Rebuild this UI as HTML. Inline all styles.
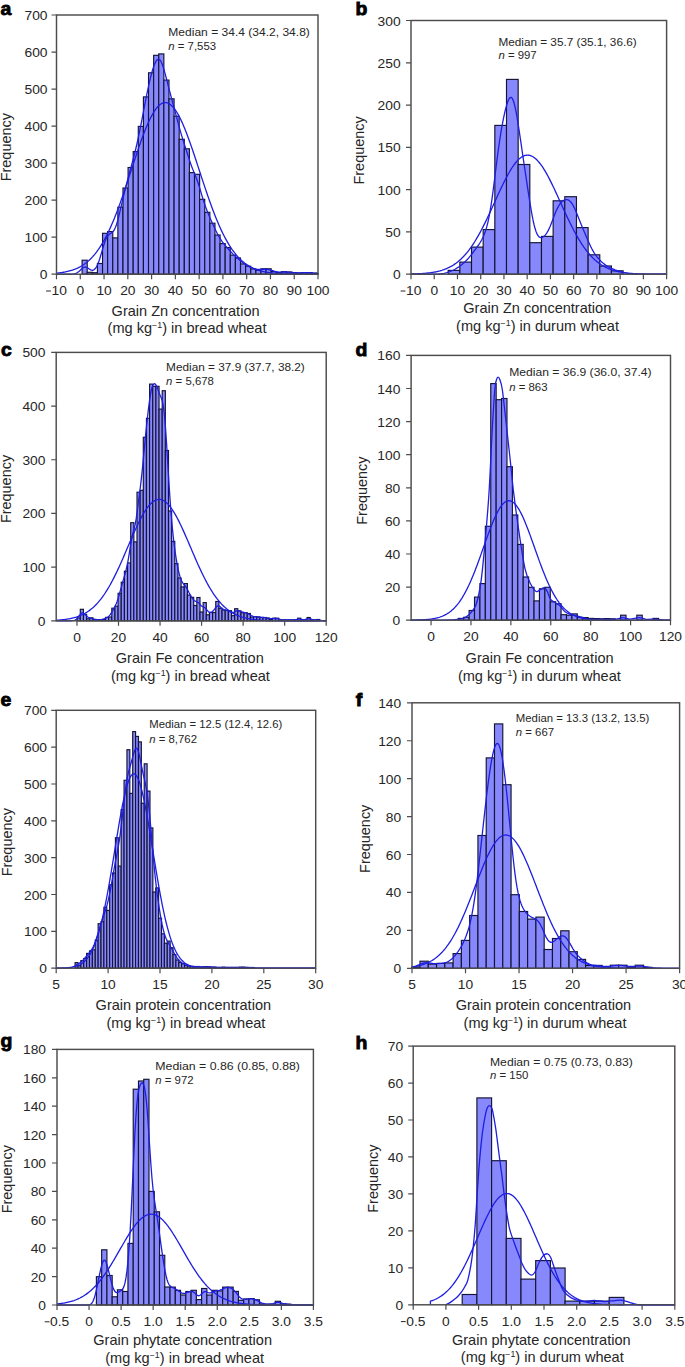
<!DOCTYPE html>
<html><head><meta charset="utf-8"><style>
html,body{margin:0;padding:0;background:#fff;}
body{width:685px;height:1367px;overflow:hidden;}
svg{display:block;}
</style></head><body><svg width="685" height="1367" viewBox="0 0 685 1367" font-family="'Liberation Sans', sans-serif"><g fill="#8888fd" stroke="#141434" stroke-width="1.15"><rect x="82.10" y="260.20" width="5.11" height="14.00"/><rect x="87.21" y="272.30" width="5.11" height="1.90"/><rect x="92.32" y="272.70" width="5.11" height="1.50"/><rect x="97.43" y="263.50" width="5.11" height="10.70"/><rect x="102.54" y="233.30" width="5.11" height="40.90"/><rect x="107.65" y="231.60" width="5.11" height="42.60"/><rect x="112.76" y="237.90" width="5.11" height="36.30"/><rect x="117.87" y="207.20" width="5.11" height="67.00"/><rect x="122.98" y="188.00" width="5.11" height="86.20"/><rect x="128.09" y="167.50" width="5.11" height="106.70"/><rect x="133.20" y="151.60" width="5.11" height="122.60"/><rect x="138.31" y="126.40" width="5.11" height="147.80"/><rect x="143.42" y="96.90" width="5.11" height="177.30"/><rect x="148.53" y="72.80" width="5.11" height="201.40"/><rect x="153.64" y="55.30" width="5.11" height="218.90"/><rect x="158.75" y="53.90" width="5.11" height="220.30"/><rect x="163.86" y="80.10" width="5.11" height="194.10"/><rect x="168.97" y="98.80" width="5.11" height="175.40"/><rect x="174.08" y="116.20" width="5.11" height="158.00"/><rect x="179.19" y="139.30" width="5.11" height="134.90"/><rect x="184.30" y="148.80" width="5.11" height="125.40"/><rect x="189.41" y="172.60" width="5.11" height="101.60"/><rect x="194.52" y="174.30" width="5.11" height="99.90"/><rect x="199.63" y="199.30" width="5.11" height="74.90"/><rect x="204.74" y="212.30" width="5.11" height="61.90"/><rect x="209.85" y="223.20" width="5.11" height="51.00"/><rect x="214.96" y="235.00" width="5.11" height="39.20"/><rect x="220.07" y="243.60" width="5.11" height="30.60"/><rect x="225.18" y="247.60" width="5.11" height="26.60"/><rect x="230.29" y="255.10" width="5.11" height="19.10"/><rect x="235.40" y="258.00" width="5.11" height="16.20"/><rect x="240.51" y="263.90" width="5.11" height="10.30"/><rect x="245.62" y="266.20" width="5.11" height="8.00"/><rect x="250.73" y="268.90" width="5.11" height="5.30"/><rect x="255.84" y="270.30" width="5.11" height="3.90"/><rect x="260.95" y="268.80" width="5.11" height="5.40"/><rect x="266.06" y="268.80" width="5.11" height="5.40"/><rect x="271.17" y="271.50" width="5.11" height="2.70"/><rect x="276.28" y="272.60" width="5.11" height="1.60"/><rect x="281.39" y="271.70" width="5.11" height="2.50"/><rect x="286.50" y="272.00" width="5.11" height="2.20"/><rect x="291.61" y="272.80" width="5.11" height="1.40"/><rect x="296.72" y="273.00" width="5.11" height="1.20"/><rect x="301.83" y="272.60" width="5.11" height="1.60"/><rect x="306.94" y="272.60" width="5.11" height="1.60"/><rect x="312.05" y="273.20" width="5.11" height="1.00"/><rect x="317.16" y="273.40" width="0.84" height="0.80"/></g><g fill="none" stroke="#1e1ee0" stroke-width="1.3" stroke-linejoin="round"><path d="M56.50,273.18 L57.50,273.08 L58.50,272.97 L59.50,272.85 L60.50,272.72 L61.50,272.58 L62.50,272.43 L63.50,272.26 L64.50,272.09 L65.50,271.90 L66.50,271.69 L67.50,271.47 L68.50,271.23 L69.50,270.97 L70.50,270.69 L71.50,270.39 L72.50,270.07 L73.50,269.72 L74.50,269.36 L75.50,268.96 L76.50,268.54 L77.50,268.09 L78.50,267.61 L79.50,267.10 L80.50,266.56 L81.50,265.98 L82.50,265.36 L83.50,264.71 L84.50,264.02 L85.50,263.29 L86.50,262.51 L87.50,261.69 L88.50,260.82 L89.50,259.91 L90.50,258.95 L91.50,257.94 L92.50,256.87 L93.50,255.75 L94.50,254.58 L95.50,253.34 L96.50,252.05 L97.50,250.71 L98.50,249.30 L99.50,247.82 L100.50,246.29 L101.50,244.69 L102.50,243.03 L103.50,241.30 L104.50,239.51 L105.50,237.65 L106.50,235.73 L107.50,233.74 L108.50,231.68 L109.50,229.55 L110.50,227.37 L111.50,225.11 L112.50,222.79 L113.50,220.41 L114.50,217.97 L115.50,215.47 L116.50,212.91 L117.50,210.29 L118.50,207.62 L119.50,204.90 L120.50,202.13 L121.50,199.31 L122.50,196.45 L123.50,193.56 L124.50,190.62 L125.50,187.65 L126.50,184.66 L127.50,181.64 L128.50,178.61 L129.50,175.56 L130.50,172.50 L131.50,169.44 L132.50,166.37 L133.50,163.32 L134.50,160.28 L135.50,157.25 L136.50,154.25 L137.50,151.28 L138.50,148.34 L139.50,145.45 L140.50,142.60 L141.50,139.80 L142.50,137.07 L143.50,134.40 L144.50,131.80 L145.50,129.28 L146.50,126.84 L147.50,124.49 L148.50,122.24 L149.50,120.09 L150.50,118.04 L151.50,116.10 L152.50,114.27 L153.50,112.56 L154.50,110.98 L155.50,109.52 L156.50,108.20 L157.50,107.01 L158.50,105.95 L159.50,105.04 L160.50,104.27 L161.50,103.64 L162.50,103.16 L163.50,102.83 L164.50,102.64 L165.50,102.60 L166.50,102.72 L167.50,102.98 L168.50,103.38 L169.50,103.94 L170.50,104.64 L171.50,105.48 L172.50,106.46 L173.50,107.58 L174.50,108.84 L175.50,110.23 L176.50,111.75 L177.50,113.40 L178.50,115.16 L179.50,117.05 L180.50,119.04 L181.50,121.15 L182.50,123.35 L183.50,125.65 L184.50,128.05 L185.50,130.52 L186.50,133.08 L187.50,135.72 L188.50,138.42 L189.50,141.19 L190.50,144.01 L191.50,146.88 L192.50,149.80 L193.50,152.75 L194.50,155.74 L195.50,158.75 L196.50,161.79 L197.50,164.84 L198.50,167.90 L199.50,170.96 L200.50,174.02 L201.50,177.08 L202.50,180.12 L203.50,183.15 L204.50,186.15 L205.50,189.13 L206.50,192.08 L207.50,195.00 L208.50,197.88 L209.50,200.72 L210.50,203.51 L211.50,206.26 L212.50,208.96 L213.50,211.60 L214.50,214.19 L215.50,216.72 L216.50,219.19 L217.50,221.61 L218.50,223.96 L219.50,226.24 L220.50,228.46 L221.50,230.62 L222.50,232.71 L223.50,234.74 L224.50,236.69 L225.50,238.59 L226.50,240.41 L227.50,242.17 L228.50,243.87 L229.50,245.50 L230.50,247.06 L231.50,248.56 L232.50,250.01 L233.50,251.38 L234.50,252.70 L235.50,253.96 L236.50,255.17 L237.50,256.31 L238.50,257.41 L239.50,258.45 L240.50,259.43 L241.50,260.37 L242.50,261.26 L243.50,262.10 L244.50,262.90 L245.50,263.66 L246.50,264.37 L247.50,265.04 L248.50,265.67 L249.50,266.27 L250.50,266.83 L251.50,267.36 L252.50,267.86 L253.50,268.32 L254.50,268.75 L255.50,269.16 L256.50,269.54 L257.50,269.90 L258.50,270.23 L259.50,270.54 L260.50,270.83 L261.50,271.10 L262.50,271.35 L263.50,271.58 L264.50,271.79 L265.50,271.99 L266.50,272.18 L267.50,272.35 L268.50,272.51 L269.50,272.65 L270.50,272.79 L271.50,272.91 L272.50,273.02 L273.50,273.13 L274.50,273.22 L275.50,273.31 L276.50,273.39 L277.50,273.47 L278.50,273.54 L279.50,273.60 L280.50,273.66 L281.50,273.71 L282.50,273.76 L283.50,273.80 L284.50,273.84 L285.50,273.87 L286.50,273.91 L287.50,273.94 L288.50,273.96 L289.50,273.99 L290.50,274.01 L291.50,274.03 L292.50,274.05 L293.50,274.06 L294.50,274.08 L295.50,274.09 L296.50,274.10 L297.50,274.11 L298.50,274.12 L299.50,274.13 L300.50,274.14 L301.50,274.14 L302.50,274.15 L303.50,274.16 L304.50,274.16 L305.50,274.17 L306.50,274.17 L307.50,274.17 L308.50,274.18 L309.50,274.18 L310.50,274.18 L311.50,274.18 L312.50,274.19 L313.50,274.19 L314.50,274.19 L315.50,274.19 L316.50,274.19 L317.50,274.19"/><path d="M56.50,274.20 L57.50,274.20 L58.50,274.20 L59.50,274.20 L60.50,274.20 L61.50,274.20 L62.50,274.20 L63.50,274.20 L64.50,274.20 L65.50,274.20 L66.50,274.20 L67.50,274.20 L68.50,274.20 L69.50,274.19 L70.50,274.17 L71.50,274.14 L72.50,274.09 L73.50,273.98 L74.50,273.81 L75.50,273.53 L76.50,273.11 L77.50,272.54 L78.50,271.80 L79.50,270.92 L80.50,269.94 L81.50,268.96 L82.50,268.09 L83.50,267.43 L84.50,267.06 L85.50,267.02 L86.50,267.30 L87.50,267.82 L88.50,268.49 L89.50,269.18 L90.50,269.77 L91.50,270.16 L92.50,270.26 L93.50,270.02 L94.50,269.38 L95.50,268.31 L96.50,266.78 L97.50,264.79 L98.50,262.34 L99.50,259.47 L100.50,256.26 L101.50,252.82 L102.50,249.32 L103.50,245.93 L104.50,242.82 L105.50,240.12 L106.50,237.92 L107.50,236.22 L108.50,235.00 L109.50,234.14 L110.50,233.49 L111.50,232.89 L112.50,232.13 L113.50,231.04 L114.50,229.46 L115.50,227.30 L116.50,224.54 L117.50,221.23 L118.50,217.47 L119.50,213.39 L120.50,209.13 L121.50,204.82 L122.50,200.54 L123.50,196.33 L124.50,192.21 L125.50,188.19 L126.50,184.24 L127.50,180.37 L128.50,176.55 L129.50,172.79 L130.50,169.07 L131.50,165.37 L132.50,161.66 L133.50,157.88 L134.50,154.00 L135.50,149.97 L136.50,145.76 L137.50,141.34 L138.50,136.72 L139.50,131.90 L140.50,126.91 L141.50,121.79 L142.50,116.58 L143.50,111.33 L144.50,106.11 L145.50,100.95 L146.50,95.90 L147.50,91.02 L148.50,86.33 L149.50,81.86 L150.50,77.66 L151.50,73.76 L152.50,70.20 L153.50,67.04 L154.50,64.33 L155.50,62.13 L156.50,60.50 L157.50,59.51 L158.50,59.20 L159.50,59.60 L160.50,60.73 L161.50,62.56 L162.50,65.02 L163.50,68.02 L164.50,71.44 L165.50,75.15 L166.50,79.02 L167.50,82.95 L168.50,86.87 L169.50,90.74 L170.50,94.54 L171.50,98.29 L172.50,102.00 L173.50,105.70 L174.50,109.42 L175.50,113.16 L176.50,116.93 L177.50,120.70 L178.50,124.44 L179.50,128.11 L180.50,131.67 L181.50,135.09 L182.50,138.38 L183.50,141.55 L184.50,144.66 L185.50,147.74 L186.50,150.84 L187.50,153.97 L188.50,157.11 L189.50,160.20 L190.50,163.18 L191.50,165.99 L192.50,168.63 L193.50,171.13 L194.50,173.54 L195.50,175.98 L196.50,178.54 L197.50,181.29 L198.50,184.27 L199.50,187.45 L200.50,190.76 L201.50,194.12 L202.50,197.45 L203.50,200.66 L204.50,203.72 L205.50,206.61 L206.50,209.33 L207.50,211.91 L208.50,214.36 L209.50,216.73 L210.50,219.03 L211.50,221.29 L212.50,223.51 L213.50,225.70 L214.50,227.85 L215.50,229.95 L216.50,231.98 L217.50,233.94 L218.50,235.80 L219.50,237.55 L220.50,239.18 L221.50,240.70 L222.50,242.10 L223.50,243.41 L224.50,244.64 L225.50,245.81 L226.50,246.96 L227.50,248.09 L228.50,249.22 L229.50,250.34 L230.50,251.46 L231.50,252.54 L232.50,253.59 L233.50,254.60 L234.50,255.55 L235.50,256.47 L236.50,257.36 L237.50,258.24 L238.50,259.12 L239.50,259.99 L240.50,260.86 L241.50,261.70 L242.50,262.51 L243.50,263.28 L244.50,263.99 L245.50,264.64 L246.50,265.25 L247.50,265.82 L248.50,266.35 L249.50,266.84 L250.50,267.32 L251.50,267.76 L252.50,268.16 L253.50,268.52 L254.50,268.84 L255.50,269.09 L256.50,269.28 L257.50,269.41 L258.50,269.47 L259.50,269.48 L260.50,269.44 L261.50,269.37 L262.50,269.29 L263.50,269.23 L264.50,269.19 L265.50,269.20 L266.50,269.25 L267.50,269.37 L268.50,269.55 L269.50,269.79 L270.50,270.06 L271.50,270.37 L272.50,270.68 L273.50,270.99 L274.50,271.28 L275.50,271.53 L276.50,271.73 L277.50,271.88 L278.50,271.99 L279.50,272.04 L280.50,272.06 L281.50,272.06 L282.50,272.04 L283.50,272.01 L284.50,272.00 L285.50,272.00 L286.50,272.02 L287.50,272.06 L288.50,272.12 L289.50,272.20 L290.50,272.29 L291.50,272.38 L292.50,272.48 L293.50,272.57 L294.50,272.65 L295.50,272.72 L296.50,272.77 L297.50,272.80 L298.50,272.82 L299.50,272.82 L300.50,272.81 L301.50,272.79 L302.50,272.76 L303.50,272.73 L304.50,272.71 L305.50,272.70 L306.50,272.70 L307.50,272.71 L308.50,272.73 L309.50,272.77 L310.50,272.83 L311.50,272.89 L312.50,272.96 L313.50,273.03 L314.50,273.11 L315.50,273.19 L316.50,273.27 L317.50,273.35"/></g><rect x="56.5" y="15.0" width="261.50" height="259.20" fill="none" stroke="#4c4c4c" stroke-width="1.45"/><path d="M51.50,274.20H56.5M51.50,237.17H56.5M51.50,200.14H56.5M51.50,163.11H56.5M51.50,126.09H56.5M51.50,89.06H56.5M51.50,52.03H56.5M51.50,15.00H56.5M56.50,274.2V279.20M80.27,274.2V279.20M104.05,274.2V279.20M127.82,274.2V279.20M151.59,274.2V279.20M175.36,274.2V279.20M199.14,274.2V279.20M222.91,274.2V279.20M246.68,274.2V279.20M270.45,274.2V279.20M294.23,274.2V279.20M318.00,274.2V279.20" stroke="#4c4c4c" stroke-width="1.2" fill="none"/><g font-size="11.9" fill="#262626"><text transform="translate(47.50,279.20) scale(1.16,1)" text-anchor="end">0</text><text transform="translate(47.50,242.17) scale(1.16,1)" text-anchor="end">100</text><text transform="translate(47.50,205.14) scale(1.16,1)" text-anchor="end">200</text><text transform="translate(47.50,168.11) scale(1.16,1)" text-anchor="end">300</text><text transform="translate(47.50,131.09) scale(1.16,1)" text-anchor="end">400</text><text transform="translate(47.50,94.06) scale(1.16,1)" text-anchor="end">500</text><text transform="translate(47.50,57.03) scale(1.16,1)" text-anchor="end">600</text><text transform="translate(47.50,20.00) scale(1.16,1)" text-anchor="end">700</text><path d="M46.12,291.00h4.8" stroke="#262626" stroke-width="1.0" fill="none"/><text transform="translate(51.52,294.90) scale(1.16,1)">10</text><text transform="translate(80.27,294.90) scale(1.16,1)" text-anchor="middle">0</text><text transform="translate(104.05,294.90) scale(1.16,1)" text-anchor="middle">10</text><text transform="translate(127.82,294.90) scale(1.16,1)" text-anchor="middle">20</text><text transform="translate(151.59,294.90) scale(1.16,1)" text-anchor="middle">30</text><text transform="translate(175.36,294.90) scale(1.16,1)" text-anchor="middle">40</text><text transform="translate(199.14,294.90) scale(1.16,1)" text-anchor="middle">50</text><text transform="translate(222.91,294.90) scale(1.16,1)" text-anchor="middle">60</text><text transform="translate(246.68,294.90) scale(1.16,1)" text-anchor="middle">70</text><text transform="translate(270.45,294.90) scale(1.16,1)" text-anchor="middle">80</text><text transform="translate(294.23,294.90) scale(1.16,1)" text-anchor="middle">90</text><text transform="translate(318.00,294.90) scale(1.16,1)" text-anchor="middle">100</text></g><g fill="#8888fd" stroke="#141434" stroke-width="1.15"><rect x="448.20" y="270.40" width="11.66" height="3.80"/><rect x="459.86" y="262.10" width="11.66" height="12.10"/><rect x="471.52" y="247.10" width="11.66" height="27.10"/><rect x="483.18" y="229.60" width="11.66" height="44.60"/><rect x="494.84" y="125.40" width="11.66" height="148.80"/><rect x="506.50" y="79.40" width="11.66" height="194.80"/><rect x="518.16" y="164.50" width="11.66" height="109.70"/><rect x="529.82" y="242.70" width="11.66" height="31.50"/><rect x="541.48" y="236.40" width="11.66" height="37.80"/><rect x="553.14" y="200.80" width="11.66" height="73.40"/><rect x="564.80" y="196.70" width="11.66" height="77.50"/><rect x="576.46" y="227.60" width="11.66" height="46.60"/><rect x="588.12" y="254.80" width="11.66" height="19.40"/><rect x="599.78" y="266.00" width="11.66" height="8.20"/><rect x="611.44" y="270.80" width="11.66" height="3.40"/></g><g fill="none" stroke="#1e1ee0" stroke-width="1.3" stroke-linejoin="round"><path d="M411.00,273.99 L412.00,273.96 L413.00,273.93 L414.00,273.90 L415.00,273.87 L416.00,273.84 L417.00,273.80 L418.00,273.75 L419.00,273.71 L420.00,273.65 L421.00,273.60 L422.00,273.53 L423.00,273.46 L424.00,273.39 L425.00,273.31 L426.00,273.22 L427.00,273.12 L428.00,273.02 L429.00,272.90 L430.00,272.78 L431.00,272.64 L432.00,272.50 L433.00,272.34 L434.00,272.17 L435.00,271.99 L436.00,271.79 L437.00,271.58 L438.00,271.35 L439.00,271.10 L440.00,270.84 L441.00,270.55 L442.00,270.25 L443.00,269.92 L444.00,269.57 L445.00,269.20 L446.00,268.80 L447.00,268.38 L448.00,267.93 L449.00,267.45 L450.00,266.94 L451.00,266.40 L452.00,265.83 L453.00,265.23 L454.00,264.59 L455.00,263.91 L456.00,263.20 L457.00,262.44 L458.00,261.65 L459.00,260.82 L460.00,259.94 L461.00,259.03 L462.00,258.06 L463.00,257.06 L464.00,256.00 L465.00,254.90 L466.00,253.76 L467.00,252.56 L468.00,251.32 L469.00,250.03 L470.00,248.68 L471.00,247.29 L472.00,245.85 L473.00,244.36 L474.00,242.82 L475.00,241.23 L476.00,239.60 L477.00,237.91 L478.00,236.18 L479.00,234.41 L480.00,232.59 L481.00,230.73 L482.00,228.82 L483.00,226.88 L484.00,224.90 L485.00,222.88 L486.00,220.84 L487.00,218.76 L488.00,216.65 L489.00,214.52 L490.00,212.37 L491.00,210.20 L492.00,208.02 L493.00,205.83 L494.00,203.63 L495.00,201.42 L496.00,199.22 L497.00,197.02 L498.00,194.84 L499.00,192.66 L500.00,190.51 L501.00,188.38 L502.00,186.27 L503.00,184.20 L504.00,182.16 L505.00,180.17 L506.00,178.22 L507.00,176.33 L508.00,174.48 L509.00,172.70 L510.00,170.99 L511.00,169.34 L512.00,167.76 L513.00,166.26 L514.00,164.84 L515.00,163.51 L516.00,162.27 L517.00,161.11 L518.00,160.05 L519.00,159.09 L520.00,158.23 L521.00,157.47 L522.00,156.81 L523.00,156.26 L524.00,155.82 L525.00,155.49 L526.00,155.27 L527.00,155.15 L528.00,155.15 L529.00,155.26 L530.00,155.48 L531.00,155.81 L532.00,156.25 L533.00,156.80 L534.00,157.45 L535.00,158.21 L536.00,159.07 L537.00,160.03 L538.00,161.08 L539.00,162.23 L540.00,163.48 L541.00,164.81 L542.00,166.22 L543.00,167.72 L544.00,169.30 L545.00,170.94 L546.00,172.66 L547.00,174.44 L548.00,176.28 L549.00,178.17 L550.00,180.12 L551.00,182.11 L552.00,184.15 L553.00,186.22 L554.00,188.32 L555.00,190.45 L556.00,192.61 L557.00,194.78 L558.00,196.97 L559.00,199.17 L560.00,201.37 L561.00,203.57 L562.00,205.77 L563.00,207.97 L564.00,210.15 L565.00,212.32 L566.00,214.47 L567.00,216.60 L568.00,218.70 L569.00,220.78 L570.00,222.83 L571.00,224.85 L572.00,226.83 L573.00,228.77 L574.00,230.68 L575.00,232.54 L576.00,234.36 L577.00,236.14 L578.00,237.87 L579.00,239.55 L580.00,241.19 L581.00,242.78 L582.00,244.32 L583.00,245.81 L584.00,247.26 L585.00,248.65 L586.00,249.99 L587.00,251.29 L588.00,252.53 L589.00,253.73 L590.00,254.88 L591.00,255.98 L592.00,257.03 L593.00,258.04 L594.00,259.00 L595.00,259.92 L596.00,260.80 L597.00,261.63 L598.00,262.42 L599.00,263.18 L600.00,263.89 L601.00,264.57 L602.00,265.21 L603.00,265.82 L604.00,266.39 L605.00,266.93 L606.00,267.44 L607.00,267.92 L608.00,268.37 L609.00,268.79 L610.00,269.19 L611.00,269.56 L612.00,269.91 L613.00,270.24 L614.00,270.54 L615.00,270.83 L616.00,271.09 L617.00,271.34 L618.00,271.57 L619.00,271.78 L620.00,271.98 L621.00,272.17 L622.00,272.34 L623.00,272.49 L624.00,272.64 L625.00,272.78 L626.00,272.90 L627.00,273.01 L628.00,273.12 L629.00,273.22 L630.00,273.31 L631.00,273.39 L632.00,273.46 L633.00,273.53 L634.00,273.59 L635.00,273.65 L636.00,273.70 L637.00,273.75 L638.00,273.80 L639.00,273.84 L640.00,273.87 L641.00,273.90 L642.00,273.93 L643.00,273.96 L644.00,273.99 L645.00,274.01 L646.00,274.03 L647.00,274.05 L648.00,274.06 L649.00,274.08 L650.00,274.09 L651.00,274.10 L652.00,274.11 L653.00,274.12 L654.00,274.13 L655.00,274.14 L656.00,274.15 L657.00,274.15 L658.00,274.16 L659.00,274.16 L660.00,274.17 L661.00,274.17 L662.00,274.17 L663.00,274.18 L664.00,274.18 L665.00,274.18 L666.00,274.18"/><path d="M411.00,274.20 L412.00,274.20 L413.00,274.20 L414.00,274.20 L415.00,274.20 L416.00,274.20 L417.00,274.20 L418.00,274.20 L419.00,274.20 L420.00,274.20 L421.00,274.20 L422.00,274.20 L423.00,274.20 L424.00,274.20 L425.00,274.20 L426.00,274.20 L427.00,274.20 L428.00,274.20 L429.00,274.20 L430.00,274.20 L431.00,274.20 L432.00,274.19 L433.00,274.19 L434.00,274.18 L435.00,274.17 L436.00,274.15 L437.00,274.12 L438.00,274.08 L439.00,274.02 L440.00,273.94 L441.00,273.84 L442.00,273.70 L443.00,273.54 L444.00,273.34 L445.00,273.11 L446.00,272.84 L447.00,272.55 L448.00,272.23 L449.00,271.88 L450.00,271.51 L451.00,271.11 L452.00,270.69 L453.00,270.24 L454.00,269.75 L455.00,269.23 L456.00,268.66 L457.00,268.04 L458.00,267.39 L459.00,266.69 L460.00,265.95 L461.00,265.19 L462.00,264.39 L463.00,263.56 L464.00,262.69 L465.00,261.78 L466.00,260.82 L467.00,259.79 L468.00,258.71 L469.00,257.56 L470.00,256.36 L471.00,255.11 L472.00,253.82 L473.00,252.51 L474.00,251.19 L475.00,249.86 L476.00,248.52 L477.00,247.15 L478.00,245.75 L479.00,244.29 L480.00,242.73 L481.00,241.06 L482.00,239.24 L483.00,237.22 L484.00,234.95 L485.00,232.35 L486.00,229.35 L487.00,225.87 L488.00,221.80 L489.00,217.09 L490.00,211.69 L491.00,205.58 L492.00,198.81 L493.00,191.48 L494.00,183.73 L495.00,175.73 L496.00,167.68 L497.00,159.76 L498.00,152.13 L499.00,144.90 L500.00,138.14 L501.00,131.88 L502.00,126.10 L503.00,120.77 L504.00,115.88 L505.00,111.43 L506.00,107.43 L507.00,103.95 L508.00,101.08 L509.00,98.94 L510.00,97.65 L511.00,97.31 L512.00,98.02 L513.00,99.81 L514.00,102.68 L515.00,106.57 L516.00,111.36 L517.00,116.91 L518.00,123.04 L519.00,129.57 L520.00,136.32 L521.00,143.18 L522.00,150.03 L523.00,156.84 L524.00,163.60 L525.00,170.31 L526.00,176.99 L527.00,183.66 L528.00,190.29 L529.00,196.82 L530.00,203.17 L531.00,209.23 L532.00,214.88 L533.00,219.99 L534.00,224.49 L535.00,228.30 L536.00,231.40 L537.00,233.81 L538.00,235.57 L539.00,236.74 L540.00,237.40 L541.00,237.64 L542.00,237.50 L543.00,237.06 L544.00,236.33 L545.00,235.35 L546.00,234.11 L547.00,232.62 L548.00,230.87 L549.00,228.87 L550.00,226.65 L551.00,224.22 L552.00,221.66 L553.00,219.01 L554.00,216.36 L555.00,213.78 L556.00,211.34 L557.00,209.09 L558.00,207.09 L559.00,205.33 L560.00,203.84 L561.00,202.60 L562.00,201.59 L563.00,200.80 L564.00,200.21 L565.00,199.82 L566.00,199.63 L567.00,199.64 L568.00,199.89 L569.00,200.39 L570.00,201.17 L571.00,202.24 L572.00,203.60 L573.00,205.24 L574.00,207.15 L575.00,209.28 L576.00,211.58 L577.00,214.00 L578.00,216.49 L579.00,218.99 L580.00,221.48 L581.00,223.95 L582.00,226.38 L583.00,228.78 L584.00,231.16 L585.00,233.54 L586.00,235.91 L587.00,238.26 L588.00,240.59 L589.00,242.86 L590.00,245.05 L591.00,247.12 L592.00,249.07 L593.00,250.88 L594.00,252.55 L595.00,254.08 L596.00,255.49 L597.00,256.80 L598.00,258.03 L599.00,259.17 L600.00,260.25 L601.00,261.26 L602.00,262.20 L603.00,263.08 L604.00,263.89 L605.00,264.63 L606.00,265.32 L607.00,265.94 L608.00,266.53 L609.00,267.07 L610.00,267.58 L611.00,268.06 L612.00,268.52 L613.00,268.96 L614.00,269.37 L615.00,269.77 L616.00,270.14 L617.00,270.50 L618.00,270.84 L619.00,271.17 L620.00,271.49 L621.00,271.80 L622.00,272.10 L623.00,272.39 L624.00,272.67 L625.00,272.93 L626.00,273.16 L627.00,273.38 L628.00,273.56 L629.00,273.71 L630.00,273.84 L631.00,273.94 L632.00,274.02 L633.00,274.08 L634.00,274.12 L635.00,274.15 L636.00,274.17 L637.00,274.18 L638.00,274.19 L639.00,274.19 L640.00,274.20 L641.00,274.20 L642.00,274.20 L643.00,274.20 L644.00,274.20 L645.00,274.20 L646.00,274.20 L647.00,274.20 L648.00,274.20 L649.00,274.20 L650.00,274.20 L651.00,274.20 L652.00,274.20 L653.00,274.20 L654.00,274.20 L655.00,274.20 L656.00,274.20 L657.00,274.20 L658.00,274.20 L659.00,274.20 L660.00,274.20 L661.00,274.20 L662.00,274.20 L663.00,274.20 L664.00,274.20 L665.00,274.20 L666.00,274.20"/></g><rect x="411.0" y="20.5" width="255.60" height="253.70" fill="none" stroke="#4c4c4c" stroke-width="1.45"/><path d="M406.00,274.20H411.0M406.00,231.92H411.0M406.00,189.63H411.0M406.00,147.35H411.0M406.00,105.07H411.0M406.00,62.78H411.0M406.00,20.50H411.0M411.00,274.2V279.20M434.24,274.2V279.20M457.47,274.2V279.20M480.71,274.2V279.20M503.95,274.2V279.20M527.18,274.2V279.20M550.42,274.2V279.20M573.65,274.2V279.20M596.89,274.2V279.20M620.13,274.2V279.20M643.36,274.2V279.20M666.60,274.2V279.20" stroke="#4c4c4c" stroke-width="1.2" fill="none"/><g font-size="11.9" fill="#262626"><text transform="translate(400.60,279.20) scale(1.16,1)" text-anchor="end">0</text><text transform="translate(400.60,236.92) scale(1.16,1)" text-anchor="end">50</text><text transform="translate(400.60,194.63) scale(1.16,1)" text-anchor="end">100</text><text transform="translate(400.60,152.35) scale(1.16,1)" text-anchor="end">150</text><text transform="translate(400.60,110.07) scale(1.16,1)" text-anchor="end">200</text><text transform="translate(400.60,67.78) scale(1.16,1)" text-anchor="end">250</text><text transform="translate(400.60,25.50) scale(1.16,1)" text-anchor="end">300</text><path d="M400.62,291.00h4.8" stroke="#262626" stroke-width="1.0" fill="none"/><text transform="translate(406.02,294.90) scale(1.16,1)">10</text><text transform="translate(434.24,294.90) scale(1.16,1)" text-anchor="middle">0</text><text transform="translate(457.47,294.90) scale(1.16,1)" text-anchor="middle">10</text><text transform="translate(480.71,294.90) scale(1.16,1)" text-anchor="middle">20</text><text transform="translate(503.95,294.90) scale(1.16,1)" text-anchor="middle">30</text><text transform="translate(527.18,294.90) scale(1.16,1)" text-anchor="middle">40</text><text transform="translate(550.42,294.90) scale(1.16,1)" text-anchor="middle">50</text><text transform="translate(573.65,294.90) scale(1.16,1)" text-anchor="middle">60</text><text transform="translate(596.89,294.90) scale(1.16,1)" text-anchor="middle">70</text><text transform="translate(620.13,294.90) scale(1.16,1)" text-anchor="middle">80</text><text transform="translate(643.36,294.90) scale(1.16,1)" text-anchor="middle">90</text><text transform="translate(666.60,294.90) scale(1.16,1)" text-anchor="middle">100</text></g><g fill="#8888fd" stroke="#141434" stroke-width="1.15"><rect x="77.15" y="617.90" width="3.15" height="2.90"/><rect x="80.30" y="609.30" width="3.15" height="11.50"/><rect x="83.45" y="614.50" width="3.15" height="6.30"/><rect x="86.60" y="618.80" width="3.15" height="2.00"/><rect x="89.75" y="617.80" width="3.15" height="3.00"/><rect x="92.90" y="619.50" width="3.15" height="1.30"/><rect x="96.05" y="619.80" width="3.15" height="1.00"/><rect x="99.20" y="619.80" width="3.15" height="1.00"/><rect x="102.35" y="619.30" width="3.15" height="1.50"/><rect x="105.50" y="617.40" width="3.15" height="3.40"/><rect x="108.65" y="617.00" width="3.15" height="3.80"/><rect x="111.80" y="608.20" width="3.15" height="12.60"/><rect x="114.95" y="606.20" width="3.15" height="14.60"/><rect x="118.10" y="593.30" width="3.15" height="27.50"/><rect x="121.25" y="582.20" width="3.15" height="38.60"/><rect x="124.40" y="571.20" width="3.15" height="49.60"/><rect x="127.55" y="562.90" width="3.15" height="57.90"/><rect x="130.70" y="522.70" width="3.15" height="98.10"/><rect x="133.85" y="541.90" width="3.15" height="78.90"/><rect x="137.00" y="492.20" width="3.15" height="128.60"/><rect x="140.15" y="490.30" width="3.15" height="130.50"/><rect x="143.30" y="437.30" width="3.15" height="183.50"/><rect x="146.45" y="418.30" width="3.15" height="202.50"/><rect x="149.60" y="384.10" width="3.15" height="236.70"/><rect x="152.75" y="386.30" width="3.15" height="234.50"/><rect x="155.90" y="386.30" width="3.15" height="234.50"/><rect x="159.05" y="409.10" width="3.15" height="211.70"/><rect x="162.20" y="390.70" width="3.15" height="230.10"/><rect x="165.35" y="450.50" width="3.15" height="170.30"/><rect x="168.50" y="511.00" width="3.15" height="109.80"/><rect x="171.65" y="541.40" width="3.15" height="79.40"/><rect x="174.80" y="563.60" width="3.15" height="57.20"/><rect x="177.95" y="578.00" width="3.15" height="42.80"/><rect x="181.10" y="586.90" width="3.15" height="33.90"/><rect x="184.25" y="583.60" width="3.15" height="37.20"/><rect x="187.40" y="595.10" width="3.15" height="25.70"/><rect x="190.55" y="597.30" width="3.15" height="23.50"/><rect x="193.70" y="605.50" width="3.15" height="15.30"/><rect x="196.85" y="597.50" width="3.15" height="23.30"/><rect x="200.00" y="612.00" width="3.15" height="8.80"/><rect x="203.15" y="602.60" width="3.15" height="18.20"/><rect x="206.30" y="614.80" width="3.15" height="6.00"/><rect x="209.45" y="612.50" width="3.15" height="8.30"/><rect x="212.60" y="612.50" width="3.15" height="8.30"/><rect x="215.75" y="601.50" width="3.15" height="19.30"/><rect x="218.90" y="608.30" width="3.15" height="12.50"/><rect x="222.05" y="610.00" width="3.15" height="10.80"/><rect x="225.20" y="610.50" width="3.15" height="10.30"/><rect x="228.35" y="610.70" width="3.15" height="10.10"/><rect x="231.50" y="615.70" width="3.15" height="5.10"/><rect x="234.65" y="608.70" width="3.15" height="12.10"/><rect x="237.80" y="610.90" width="3.15" height="9.90"/><rect x="240.95" y="612.70" width="3.15" height="8.10"/><rect x="244.10" y="612.70" width="3.15" height="8.10"/><rect x="247.25" y="613.50" width="3.15" height="7.30"/><rect x="250.40" y="617.00" width="3.15" height="3.80"/><rect x="253.55" y="616.60" width="3.15" height="4.20"/><rect x="256.70" y="617.00" width="3.15" height="3.80"/><rect x="259.85" y="617.50" width="3.15" height="3.30"/><rect x="263.00" y="617.50" width="3.15" height="3.30"/><rect x="266.15" y="618.00" width="3.15" height="2.80"/><rect x="269.30" y="619.50" width="3.15" height="1.30"/><rect x="272.45" y="618.20" width="3.15" height="2.60"/><rect x="275.60" y="618.20" width="3.15" height="2.60"/><rect x="278.75" y="620.00" width="3.15" height="0.80"/><rect x="281.90" y="620.00" width="3.15" height="0.80"/><rect x="285.05" y="620.00" width="3.15" height="0.80"/><rect x="288.20" y="620.00" width="3.15" height="0.80"/><rect x="291.35" y="620.00" width="3.15" height="0.80"/><rect x="294.50" y="620.00" width="3.15" height="0.80"/><rect x="297.65" y="618.20" width="3.15" height="2.60"/><rect x="300.80" y="620.00" width="3.15" height="0.80"/><rect x="303.95" y="620.00" width="3.15" height="0.80"/><rect x="307.10" y="617.50" width="3.15" height="3.30"/><rect x="310.25" y="620.00" width="3.15" height="0.80"/><rect x="313.40" y="620.00" width="3.15" height="0.80"/><rect x="316.55" y="619.50" width="3.15" height="1.30"/></g><g fill="none" stroke="#1e1ee0" stroke-width="1.3" stroke-linejoin="round"><path d="M56.20,620.24 L57.20,620.17 L58.20,620.11 L59.20,620.03 L60.20,619.95 L61.20,619.86 L62.20,619.76 L63.20,619.66 L64.20,619.54 L65.20,619.42 L66.20,619.28 L67.20,619.13 L68.20,618.97 L69.20,618.79 L70.20,618.60 L71.20,618.39 L72.20,618.17 L73.20,617.93 L74.20,617.67 L75.20,617.39 L76.20,617.09 L77.20,616.76 L78.20,616.42 L79.20,616.04 L80.20,615.64 L81.20,615.22 L82.20,614.76 L83.20,614.27 L84.20,613.75 L85.20,613.20 L86.20,612.61 L87.20,611.99 L88.20,611.33 L89.20,610.63 L90.20,609.88 L91.20,609.10 L92.20,608.27 L93.20,607.40 L94.20,606.48 L95.20,605.51 L96.20,604.49 L97.20,603.43 L98.20,602.31 L99.20,601.14 L100.20,599.92 L101.20,598.65 L102.20,597.32 L103.20,595.93 L104.20,594.50 L105.20,593.00 L106.20,591.46 L107.20,589.85 L108.20,588.20 L109.20,586.49 L110.20,584.72 L111.20,582.90 L112.20,581.04 L113.20,579.12 L114.20,577.15 L115.20,575.14 L116.20,573.09 L117.20,570.99 L118.20,568.85 L119.20,566.68 L120.20,564.47 L121.20,562.23 L122.20,559.97 L123.20,557.68 L124.20,555.37 L125.20,553.04 L126.20,550.71 L127.20,548.36 L128.20,546.02 L129.20,543.68 L130.20,541.34 L131.20,539.02 L132.20,536.71 L133.20,534.43 L134.20,532.17 L135.20,529.95 L136.20,527.77 L137.20,525.63 L138.20,523.54 L139.20,521.50 L140.20,519.53 L141.20,517.62 L142.20,515.78 L143.20,514.02 L144.20,512.34 L145.20,510.74 L146.20,509.23 L147.20,507.82 L148.20,506.51 L149.20,505.29 L150.20,504.18 L151.20,503.19 L152.20,502.30 L153.20,501.53 L154.20,500.87 L155.20,500.33 L156.20,499.92 L157.20,499.62 L158.20,499.45 L159.20,499.40 L160.20,499.47 L161.20,499.67 L162.20,499.99 L163.20,500.43 L164.20,500.99 L165.20,501.67 L166.20,502.46 L167.20,503.37 L168.20,504.39 L169.20,505.52 L170.20,506.75 L171.20,508.09 L172.20,509.52 L173.20,511.04 L174.20,512.66 L175.20,514.36 L176.20,516.13 L177.20,517.99 L178.20,519.91 L179.20,521.90 L180.20,523.94 L181.20,526.04 L182.20,528.19 L183.20,530.38 L184.20,532.61 L185.20,534.87 L186.20,537.16 L187.20,539.47 L188.20,541.80 L189.20,544.13 L190.20,546.48 L191.20,548.82 L192.20,551.16 L193.20,553.50 L194.20,555.82 L195.20,558.13 L196.20,560.41 L197.20,562.67 L198.20,564.90 L199.20,567.11 L200.20,569.27 L201.20,571.40 L202.20,573.49 L203.20,575.54 L204.20,577.54 L205.20,579.50 L206.20,581.41 L207.20,583.26 L208.20,585.07 L209.20,586.82 L210.20,588.52 L211.20,590.17 L212.20,591.76 L213.20,593.30 L214.20,594.78 L215.20,596.21 L216.20,597.58 L217.20,598.90 L218.20,600.16 L219.20,601.37 L220.20,602.53 L221.20,603.64 L222.20,604.70 L223.20,605.70 L224.20,606.66 L225.20,607.57 L226.20,608.44 L227.20,609.26 L228.20,610.03 L229.20,610.77 L230.20,611.46 L231.20,612.11 L232.20,612.73 L233.20,613.31 L234.20,613.86 L235.20,614.37 L236.20,614.85 L237.20,615.30 L238.20,615.72 L239.20,616.12 L240.20,616.48 L241.20,616.83 L242.20,617.15 L243.20,617.44 L244.20,617.72 L245.20,617.98 L246.20,618.21 L247.20,618.43 L248.20,618.64 L249.20,618.83 L250.20,619.00 L251.20,619.16 L252.20,619.31 L253.20,619.44 L254.20,619.57 L255.20,619.68 L256.20,619.78 L257.20,619.88 L258.20,619.97 L259.20,620.05 L260.20,620.12 L261.20,620.19 L262.20,620.25 L263.20,620.30 L264.20,620.35 L265.20,620.40 L266.20,620.44 L267.20,620.48 L268.20,620.51 L269.20,620.54 L270.20,620.57 L271.20,620.59 L272.20,620.62 L273.20,620.64 L274.20,620.65 L275.20,620.67 L276.20,620.68 L277.20,620.70 L278.20,620.71 L279.20,620.72 L280.20,620.73 L281.20,620.74 L282.20,620.74 L283.20,620.75 L284.20,620.76 L285.20,620.76 L286.20,620.77 L287.20,620.77 L288.20,620.77 L289.20,620.78 L290.20,620.78 L291.20,620.78 L292.20,620.78 L293.20,620.79 L294.20,620.79 L295.20,620.79 L296.20,620.79 L297.20,620.79 L298.20,620.79 L299.20,620.79 L300.20,620.80 L301.20,620.80 L302.20,620.80 L303.20,620.80 L304.20,620.80 L305.20,620.80 L306.20,620.80 L307.20,620.80 L308.20,620.80 L309.20,620.80 L310.20,620.80 L311.20,620.80 L312.20,620.80 L313.20,620.80 L314.20,620.80 L315.20,620.80 L316.20,620.80 L317.20,620.80 L318.20,620.80 L319.20,620.80 L320.20,620.80 L321.20,620.80 L322.20,620.80 L323.20,620.80 L324.20,620.80 L325.20,620.80 L326.20,620.80"/><path d="M56.20,620.80 L57.20,620.80 L58.20,620.80 L59.20,620.80 L60.20,620.80 L61.20,620.80 L62.20,620.80 L63.20,620.80 L64.20,620.80 L65.20,620.80 L66.20,620.80 L67.20,620.80 L68.20,620.80 L69.20,620.80 L70.20,620.79 L71.20,620.77 L72.20,620.72 L73.20,620.61 L74.20,620.39 L75.20,619.98 L76.20,619.33 L77.20,618.40 L78.20,617.19 L79.20,615.82 L80.20,614.49 L81.20,613.45 L82.20,612.93 L83.20,613.02 L84.20,613.63 L85.20,614.57 L86.20,615.60 L87.20,616.53 L88.20,617.26 L89.20,617.76 L90.20,618.09 L91.20,618.33 L92.20,618.55 L93.20,618.80 L94.20,619.06 L95.20,619.29 L96.20,619.48 L97.20,619.60 L98.20,619.67 L99.20,619.68 L100.20,619.63 L101.20,619.53 L102.20,619.36 L103.20,619.11 L104.20,618.78 L105.20,618.40 L106.20,617.95 L107.20,617.43 L108.20,616.77 L109.20,615.88 L110.20,614.70 L111.20,613.23 L112.20,611.54 L113.20,609.76 L114.20,607.93 L115.20,605.98 L116.20,603.76 L117.20,601.15 L118.20,598.12 L119.20,594.75 L120.20,591.19 L121.20,587.56 L122.20,583.95 L123.20,580.38 L124.20,576.84 L125.20,573.24 L126.20,569.39 L127.20,565.00 L128.20,559.82 L129.20,553.80 L130.20,547.37 L131.20,541.27 L132.20,536.19 L133.20,532.21 L134.20,528.64 L135.20,524.38 L136.20,518.68 L137.20,511.59 L138.20,503.79 L139.20,495.97 L140.20,488.21 L141.20,480.03 L142.20,470.87 L143.20,460.64 L144.20,449.83 L145.20,439.16 L146.20,429.12 L147.20,419.81 L148.20,411.16 L149.20,403.18 L150.20,396.19 L151.20,390.60 L152.20,386.71 L153.20,384.48 L154.20,383.68 L155.20,384.01 L156.20,385.31 L157.20,387.43 L158.20,390.13 L159.20,392.95 L160.20,395.50 L161.20,397.81 L162.20,400.63 L163.20,405.24 L164.20,412.80 L165.20,423.83 L166.20,437.91 L167.20,453.96 L168.20,470.68 L169.20,486.92 L170.20,501.84 L171.20,515.03 L172.20,526.44 L173.20,536.28 L174.20,544.81 L175.20,552.28 L176.20,558.83 L177.20,564.58 L178.20,569.57 L179.20,573.83 L180.20,577.36 L181.20,580.15 L182.20,582.22 L183.20,583.69 L184.20,584.83 L185.20,585.95 L186.20,587.33 L187.20,589.05 L188.20,590.99 L189.20,592.96 L190.20,594.82 L191.20,596.52 L192.20,598.08 L193.20,599.45 L194.20,600.52 L195.20,601.22 L196.20,601.59 L197.20,601.91 L198.20,602.47 L199.20,603.42 L200.20,604.61 L201.20,605.71 L202.20,606.46 L203.20,606.89 L204.20,607.30 L205.20,607.99 L206.20,609.05 L207.20,610.29 L208.20,611.40 L209.20,612.13 L210.20,612.40 L211.20,612.25 L212.20,611.73 L213.20,610.85 L214.20,609.64 L215.20,608.26 L216.20,606.97 L217.20,606.09 L218.20,605.82 L219.20,606.14 L220.20,606.84 L221.20,607.69 L222.20,608.48 L223.20,609.10 L224.20,609.57 L225.20,609.91 L226.20,610.19 L227.20,610.46 L228.20,610.80 L229.20,611.24 L230.20,611.75 L231.20,612.22 L232.20,612.49 L233.20,612.43 L234.20,612.03 L235.20,611.44 L236.20,610.89 L237.20,610.57 L238.20,610.55 L239.20,610.78 L240.20,611.16 L241.20,611.57 L242.20,611.95 L243.20,612.25 L244.20,612.50 L245.20,612.72 L246.20,612.98 L247.20,613.31 L248.20,613.76 L249.20,614.31 L250.20,614.92 L251.20,615.50 L252.20,615.98 L253.20,616.32 L254.20,616.53 L255.20,616.67 L256.20,616.76 L257.20,616.86 L258.20,616.97 L259.20,617.08 L260.20,617.19 L261.20,617.30 L262.20,617.39 L263.20,617.47 L264.20,617.57 L265.20,617.69 L266.20,617.86 L267.20,618.06 L268.20,618.29 L269.20,618.51 L270.20,618.66 L271.20,618.72 L272.20,618.69 L273.20,618.60 L274.20,618.50 L275.20,618.47 L276.20,618.52 L277.20,618.68 L278.20,618.93 L279.20,619.21 L280.20,619.47 L281.20,619.69 L282.20,619.83 L283.20,619.92 L284.20,619.96 L285.20,619.98 L286.20,619.98 L287.20,619.99 L288.20,619.99 L289.20,619.99 L290.20,619.98 L291.20,619.98 L292.20,619.96 L293.20,619.92 L294.20,619.84 L295.20,619.71 L296.20,619.53 L297.20,619.34 L298.20,619.19 L299.20,619.12 L300.20,619.17 L301.20,619.31 L302.20,619.46 L303.20,619.56 L304.20,619.54 L305.20,619.40 L306.20,619.18 L307.20,618.95 L308.20,618.81 L309.20,618.81 L310.20,618.97 L311.20,619.21 L312.20,619.47 L313.20,619.66 L314.20,619.78 L315.20,619.83 L316.20,619.85 L317.20,619.88 L318.20,619.97 L319.20,620.11 L320.20,620.28 L321.20,620.45 L322.20,620.60 L323.20,620.70 L324.20,620.75 L325.20,620.78 L326.20,620.79"/></g><rect x="56.2" y="352.4" width="270.00" height="268.40" fill="none" stroke="#4c4c4c" stroke-width="1.45"/><path d="M51.20,620.80H56.2M51.20,567.12H56.2M51.20,513.44H56.2M51.20,459.76H56.2M51.20,406.08H56.2M51.20,352.40H56.2M76.97,620.8V625.80M118.51,620.8V625.80M160.05,620.8V625.80M201.58,620.8V625.80M243.12,620.8V625.80M284.66,620.8V625.80M326.20,620.8V625.80" stroke="#4c4c4c" stroke-width="1.2" fill="none"/><g font-size="11.9" fill="#262626"><text transform="translate(45.40,625.80) scale(1.16,1)" text-anchor="end">0</text><text transform="translate(45.40,572.12) scale(1.16,1)" text-anchor="end">100</text><text transform="translate(45.40,518.44) scale(1.16,1)" text-anchor="end">200</text><text transform="translate(45.40,464.76) scale(1.16,1)" text-anchor="end">300</text><text transform="translate(45.40,411.08) scale(1.16,1)" text-anchor="end">400</text><text transform="translate(45.40,357.40) scale(1.16,1)" text-anchor="end">500</text><text transform="translate(76.97,641.50) scale(1.16,1)" text-anchor="middle">0</text><text transform="translate(118.51,641.50) scale(1.16,1)" text-anchor="middle">20</text><text transform="translate(160.05,641.50) scale(1.16,1)" text-anchor="middle">40</text><text transform="translate(201.58,641.50) scale(1.16,1)" text-anchor="middle">60</text><text transform="translate(243.12,641.50) scale(1.16,1)" text-anchor="middle">80</text><text transform="translate(284.66,641.50) scale(1.16,1)" text-anchor="middle">100</text><text transform="translate(326.20,641.50) scale(1.16,1)" text-anchor="middle">120</text></g><g fill="#8888fd" stroke="#141434" stroke-width="1.15"><rect x="458.29" y="618.40" width="5.41" height="1.80"/><rect x="463.70" y="617.30" width="5.41" height="2.90"/><rect x="469.11" y="610.50" width="5.41" height="9.70"/><rect x="474.52" y="597.10" width="5.41" height="23.10"/><rect x="479.93" y="583.60" width="5.41" height="36.60"/><rect x="485.34" y="526.30" width="5.41" height="93.90"/><rect x="490.75" y="383.60" width="5.41" height="236.60"/><rect x="496.16" y="399.70" width="5.41" height="220.50"/><rect x="501.57" y="398.50" width="5.41" height="221.70"/><rect x="506.98" y="466.70" width="5.41" height="153.50"/><rect x="512.39" y="515.00" width="5.41" height="105.20"/><rect x="517.80" y="544.40" width="5.41" height="75.80"/><rect x="523.21" y="577.00" width="5.41" height="43.20"/><rect x="528.62" y="587.30" width="5.41" height="32.90"/><rect x="534.03" y="600.90" width="5.41" height="19.30"/><rect x="539.44" y="588.80" width="5.41" height="31.40"/><rect x="544.85" y="587.30" width="5.41" height="32.90"/><rect x="550.26" y="601.80" width="5.41" height="18.40"/><rect x="555.67" y="603.80" width="5.41" height="16.40"/><rect x="561.08" y="614.70" width="5.41" height="5.50"/><rect x="566.49" y="615.20" width="5.41" height="5.00"/><rect x="571.90" y="613.90" width="5.41" height="6.30"/><rect x="577.31" y="617.30" width="5.41" height="2.90"/><rect x="582.72" y="617.60" width="5.41" height="2.60"/><rect x="588.13" y="618.40" width="5.41" height="1.80"/><rect x="593.54" y="618.60" width="5.41" height="1.60"/><rect x="598.95" y="618.80" width="5.41" height="1.40"/><rect x="604.36" y="618.60" width="5.41" height="1.60"/><rect x="609.77" y="618.80" width="5.41" height="1.40"/><rect x="620.59" y="615.20" width="5.41" height="5.00"/><rect x="636.82" y="615.20" width="5.41" height="5.00"/><rect x="653.05" y="618.40" width="5.41" height="1.80"/></g><g fill="none" stroke="#1e1ee0" stroke-width="1.3" stroke-linejoin="round"><path d="M411.10,620.12 L412.10,620.11 L413.10,620.09 L414.10,620.08 L415.10,620.06 L416.10,620.03 L417.10,620.01 L418.10,619.98 L419.10,619.95 L420.10,619.91 L421.10,619.87 L422.10,619.82 L423.10,619.77 L424.10,619.71 L425.10,619.64 L426.10,619.57 L427.10,619.48 L428.10,619.39 L429.10,619.28 L430.10,619.16 L431.10,619.03 L432.10,618.88 L433.10,618.72 L434.10,618.54 L435.10,618.34 L436.10,618.12 L437.10,617.88 L438.10,617.61 L439.10,617.32 L440.10,617.00 L441.10,616.64 L442.10,616.26 L443.10,615.84 L444.10,615.38 L445.10,614.88 L446.10,614.34 L447.10,613.76 L448.10,613.13 L449.10,612.44 L450.10,611.71 L451.10,610.92 L452.10,610.07 L453.10,609.16 L454.10,608.19 L455.10,607.15 L456.10,606.04 L457.10,604.86 L458.10,603.61 L459.10,602.29 L460.10,600.88 L461.10,599.40 L462.10,597.85 L463.10,596.21 L464.10,594.49 L465.10,592.69 L466.10,590.80 L467.10,588.84 L468.10,586.80 L469.10,584.68 L470.10,582.48 L471.10,580.20 L472.10,577.86 L473.10,575.44 L474.10,572.96 L475.10,570.41 L476.10,567.81 L477.10,565.16 L478.10,562.46 L479.10,559.72 L480.10,556.95 L481.10,554.15 L482.10,551.34 L483.10,548.51 L484.10,545.68 L485.10,542.85 L486.10,540.04 L487.10,537.26 L488.10,534.51 L489.10,531.81 L490.10,529.15 L491.10,526.56 L492.10,524.05 L493.10,521.62 L494.10,519.27 L495.10,517.04 L496.10,514.91 L497.10,512.90 L498.10,511.02 L499.10,509.28 L500.10,507.68 L501.10,506.23 L502.10,504.94 L503.10,503.81 L504.10,502.85 L505.10,502.07 L506.10,501.46 L507.10,501.02 L508.10,500.77 L509.10,500.70 L510.10,500.81 L511.10,501.11 L512.10,501.58 L513.10,502.23 L514.10,503.06 L515.10,504.06 L516.10,505.23 L517.10,506.56 L518.10,508.04 L519.10,509.67 L520.10,511.45 L521.10,513.36 L522.10,515.39 L523.10,517.55 L524.10,519.81 L525.10,522.18 L526.10,524.63 L527.10,527.16 L528.10,529.77 L529.10,532.43 L530.10,535.15 L531.10,537.91 L532.10,540.70 L533.10,543.51 L534.10,546.34 L535.10,549.17 L536.10,551.99 L537.10,554.81 L538.10,557.60 L539.10,560.37 L540.10,563.10 L541.10,565.78 L542.10,568.42 L543.10,571.01 L544.10,573.54 L545.10,576.01 L546.10,578.41 L547.10,580.74 L548.10,583.00 L549.10,585.18 L550.10,587.28 L551.10,589.31 L552.10,591.25 L553.10,593.11 L554.10,594.90 L555.10,596.60 L556.10,598.22 L557.10,599.76 L558.10,601.22 L559.10,602.60 L560.10,603.91 L561.10,605.14 L562.10,606.30 L563.10,607.40 L564.10,608.42 L565.10,609.38 L566.10,610.27 L567.10,611.11 L568.10,611.89 L569.10,612.61 L570.10,613.28 L571.10,613.90 L572.10,614.47 L573.10,615.00 L574.10,615.49 L575.10,615.94 L576.10,616.35 L577.10,616.73 L578.10,617.07 L579.10,617.39 L580.10,617.68 L581.10,617.94 L582.10,618.17 L583.10,618.39 L584.10,618.58 L585.10,618.76 L586.10,618.92 L587.10,619.06 L588.10,619.19 L589.10,619.31 L590.10,619.41 L591.10,619.50 L592.10,619.58 L593.10,619.66 L594.10,619.72 L595.10,619.78 L596.10,619.83 L597.10,619.88 L598.10,619.92 L599.10,619.96 L600.10,619.99 L601.10,620.02 L602.10,620.04 L603.10,620.06 L604.10,620.08 L605.10,620.10 L606.10,620.11 L607.10,620.12 L608.10,620.13 L609.10,620.14 L610.10,620.15 L611.10,620.16 L612.10,620.16 L613.10,620.17 L614.10,620.17 L615.10,620.18 L616.10,620.18 L617.10,620.18 L618.10,620.19 L619.10,620.19 L620.10,620.19 L621.10,620.19 L622.10,620.19 L623.10,620.19 L624.10,620.20 L625.10,620.20 L626.10,620.20 L627.10,620.20 L628.10,620.20 L629.10,620.20 L630.10,620.20 L631.10,620.20 L632.10,620.20 L633.10,620.20 L634.10,620.20 L635.10,620.20 L636.10,620.20 L637.10,620.20 L638.10,620.20 L639.10,620.20 L640.10,620.20 L641.10,620.20 L642.10,620.20 L643.10,620.20 L644.10,620.20 L645.10,620.20 L646.10,620.20 L647.10,620.20 L648.10,620.20 L649.10,620.20 L650.10,620.20 L651.10,620.20 L652.10,620.20 L653.10,620.20 L654.10,620.20 L655.10,620.20 L656.10,620.20 L657.10,620.20 L658.10,620.20 L659.10,620.20 L660.10,620.20 L661.10,620.20 L662.10,620.20 L663.10,620.20 L664.10,620.20 L665.10,620.20 L666.10,620.20 L667.10,620.20 L668.10,620.20 L669.10,620.20 L670.10,620.20"/><path d="M411.10,620.20 C415.92,620.18 432.68,620.18 440.00,620.10 C447.32,620.02 451.17,619.98 455.00,619.70 C458.83,619.42 460.83,619.10 463.00,618.40 C465.17,617.70 466.50,616.68 468.00,615.50 C469.50,614.32 470.72,612.97 472.00,611.30 C473.28,609.63 474.62,608.13 475.70,605.50 C476.78,602.87 477.55,599.98 478.50,595.50 C479.45,591.02 480.28,587.75 481.40,578.60 C482.52,569.45 483.93,554.85 485.20,540.60 C486.47,526.35 487.88,510.53 489.00,493.10 C490.12,475.67 490.95,453.10 491.90,436.00 C492.85,418.90 493.92,399.92 494.70,390.50 C495.48,381.08 496.03,381.73 496.60,379.50 C497.17,377.27 497.57,377.10 498.10,377.10 C498.63,377.10 499.10,377.43 499.80,379.50 C500.50,381.57 501.25,382.30 502.30,389.50 C503.35,396.70 504.83,411.45 506.10,422.70 C507.37,433.95 508.63,445.27 509.90,457.00 C511.17,468.73 512.12,480.12 513.70,493.10 C515.28,506.08 517.50,522.23 519.40,534.90 C521.30,547.57 523.20,560.87 525.10,569.10 C527.00,577.33 528.95,580.57 530.80,584.30 C532.65,588.03 534.62,590.62 536.20,591.50 C537.78,592.38 538.92,590.25 540.30,589.60 C541.68,588.95 543.30,587.20 544.50,587.60 C545.70,588.00 546.48,590.05 547.50,592.00 C548.52,593.95 549.28,597.52 550.60,599.30 C551.92,601.08 553.80,601.58 555.40,602.70 C557.00,603.82 558.60,604.48 560.20,606.00 C561.80,607.52 563.23,610.35 565.00,611.80 C566.77,613.25 568.87,614.03 570.80,614.70 C572.73,615.37 574.67,615.32 576.60,615.80 C578.53,616.28 580.15,617.02 582.40,617.60 C584.65,618.18 586.33,618.98 590.10,619.30 C593.87,619.62 600.68,619.52 605.00,619.50 C609.32,619.48 613.02,619.52 616.00,619.20 C618.98,618.88 620.57,617.60 622.90,617.60 C625.23,617.60 627.28,619.20 630.00,619.20 C632.72,619.20 636.53,617.58 639.20,617.60 C641.87,617.62 643.27,619.05 646.00,619.30 C648.73,619.55 652.93,619.02 655.60,619.10 C658.27,619.18 659.52,619.63 662.00,619.80 C664.48,619.97 669.08,620.05 670.50,620.10"/></g><rect x="411.1" y="355.4" width="259.40" height="264.80" fill="none" stroke="#4c4c4c" stroke-width="1.45"/><path d="M406.10,620.20H411.1M406.10,587.10H411.1M406.10,554.00H411.1M406.10,520.90H411.1M406.10,487.80H411.1M406.10,454.70H411.1M406.10,421.60H411.1M406.10,388.50H411.1M406.10,355.40H411.1M431.05,620.2V625.20M470.96,620.2V625.20M510.87,620.2V625.20M550.78,620.2V625.20M590.68,620.2V625.20M630.59,620.2V625.20M670.50,620.2V625.20" stroke="#4c4c4c" stroke-width="1.2" fill="none"/><g font-size="11.9" fill="#262626"><text transform="translate(400.30,625.20) scale(1.16,1)" text-anchor="end">0</text><text transform="translate(400.30,592.10) scale(1.16,1)" text-anchor="end">20</text><text transform="translate(400.30,559.00) scale(1.16,1)" text-anchor="end">40</text><text transform="translate(400.30,525.90) scale(1.16,1)" text-anchor="end">60</text><text transform="translate(400.30,492.80) scale(1.16,1)" text-anchor="end">80</text><text transform="translate(400.30,459.70) scale(1.16,1)" text-anchor="end">100</text><text transform="translate(400.30,426.60) scale(1.16,1)" text-anchor="end">120</text><text transform="translate(400.30,393.50) scale(1.16,1)" text-anchor="end">140</text><text transform="translate(400.30,360.40) scale(1.16,1)" text-anchor="end">160</text><text transform="translate(431.05,640.90) scale(1.16,1)" text-anchor="middle">0</text><text transform="translate(470.96,640.90) scale(1.16,1)" text-anchor="middle">20</text><text transform="translate(510.87,640.90) scale(1.16,1)" text-anchor="middle">40</text><text transform="translate(550.78,640.90) scale(1.16,1)" text-anchor="middle">60</text><text transform="translate(590.68,640.90) scale(1.16,1)" text-anchor="middle">80</text><text transform="translate(630.59,640.90) scale(1.16,1)" text-anchor="middle">100</text><text transform="translate(670.50,640.90) scale(1.16,1)" text-anchor="middle">120</text></g><g fill="#8888fd" stroke="#141434" stroke-width="1.15"><rect x="75.10" y="962.60" width="2.88" height="5.60"/><rect x="77.98" y="965.70" width="2.88" height="2.50"/><rect x="80.86" y="960.60" width="2.88" height="7.60"/><rect x="83.74" y="958.50" width="2.88" height="9.70"/><rect x="86.62" y="953.40" width="2.88" height="14.80"/><rect x="89.50" y="950.90" width="2.88" height="17.30"/><rect x="92.38" y="949.80" width="2.88" height="18.40"/><rect x="95.26" y="940.10" width="2.88" height="28.10"/><rect x="98.14" y="923.70" width="2.88" height="44.50"/><rect x="101.02" y="921.70" width="2.88" height="46.50"/><rect x="103.90" y="907.30" width="2.88" height="60.90"/><rect x="106.78" y="910.40" width="2.88" height="57.80"/><rect x="109.66" y="884.80" width="2.88" height="83.40"/><rect x="112.54" y="873.00" width="2.88" height="95.20"/><rect x="115.42" y="837.70" width="2.88" height="130.50"/><rect x="118.30" y="866.10" width="2.88" height="102.10"/><rect x="121.18" y="809.60" width="2.88" height="158.60"/><rect x="124.06" y="780.30" width="2.88" height="187.90"/><rect x="126.94" y="749.70" width="2.88" height="218.50"/><rect x="129.82" y="793.40" width="2.88" height="174.80"/><rect x="132.70" y="731.60" width="2.88" height="236.60"/><rect x="135.58" y="736.40" width="2.88" height="231.80"/><rect x="138.46" y="741.90" width="2.88" height="226.30"/><rect x="141.34" y="803.20" width="2.88" height="165.00"/><rect x="144.22" y="763.80" width="2.88" height="204.40"/><rect x="147.10" y="791.10" width="2.88" height="177.10"/><rect x="149.98" y="827.90" width="2.88" height="140.30"/><rect x="152.86" y="892.00" width="2.88" height="76.20"/><rect x="155.74" y="887.90" width="2.88" height="80.30"/><rect x="158.62" y="918.20" width="2.88" height="50.00"/><rect x="161.50" y="933.80" width="2.88" height="34.40"/><rect x="164.38" y="943.20" width="2.88" height="25.00"/><rect x="167.26" y="941.10" width="2.88" height="27.10"/><rect x="170.14" y="947.70" width="2.88" height="20.50"/><rect x="173.02" y="954.70" width="2.88" height="13.50"/><rect x="175.90" y="960.00" width="2.88" height="8.20"/><rect x="178.78" y="962.50" width="2.88" height="5.70"/><rect x="181.66" y="963.70" width="2.88" height="4.50"/><rect x="184.54" y="965.30" width="2.88" height="2.90"/><rect x="187.42" y="966.00" width="2.88" height="2.20"/><rect x="190.30" y="966.40" width="2.88" height="1.80"/><rect x="193.18" y="966.80" width="2.88" height="1.40"/><rect x="196.06" y="966.50" width="2.88" height="1.70"/><rect x="198.94" y="967.00" width="2.88" height="1.20"/><rect x="201.82" y="967.00" width="2.88" height="1.20"/><rect x="204.70" y="966.60" width="2.88" height="1.60"/><rect x="207.58" y="966.80" width="2.88" height="1.40"/><rect x="210.46" y="967.20" width="2.88" height="1.00"/><rect x="213.34" y="967.20" width="2.88" height="1.00"/><rect x="216.22" y="967.50" width="2.88" height="0.70"/><rect x="219.10" y="967.50" width="2.88" height="0.70"/><rect x="221.98" y="967.20" width="2.88" height="1.00"/><rect x="224.86" y="967.50" width="2.88" height="0.70"/><rect x="227.74" y="967.50" width="2.88" height="0.70"/><rect x="230.62" y="967.50" width="2.88" height="0.70"/><rect x="233.50" y="967.50" width="2.88" height="0.70"/><rect x="236.38" y="967.50" width="2.88" height="0.70"/><rect x="239.26" y="967.20" width="2.88" height="1.00"/><rect x="242.14" y="967.20" width="2.88" height="1.00"/><rect x="245.02" y="967.50" width="2.88" height="0.70"/><rect x="247.90" y="967.50" width="2.88" height="0.70"/><rect x="250.78" y="967.50" width="2.88" height="0.70"/></g><g fill="none" stroke="#1e1ee0" stroke-width="1.3" stroke-linejoin="round"><path d="M56.20,968.15 L57.20,968.14 L58.20,968.13 L59.20,968.11 L60.20,968.09 L61.20,968.07 L62.20,968.04 L63.20,968.00 L64.20,967.96 L65.20,967.91 L66.20,967.85 L67.20,967.77 L68.20,967.69 L69.20,967.59 L70.20,967.47 L71.20,967.33 L72.20,967.17 L73.20,966.98 L74.20,966.76 L75.20,966.50 L76.20,966.20 L77.20,965.86 L78.20,965.47 L79.20,965.02 L80.20,964.51 L81.20,963.93 L82.20,963.27 L83.20,962.52 L84.20,961.67 L85.20,960.73 L86.20,959.67 L87.20,958.48 L88.20,957.16 L89.20,955.70 L90.20,954.08 L91.20,952.29 L92.20,950.33 L93.20,948.19 L94.20,945.84 L95.20,943.30 L96.20,940.53 L97.20,937.55 L98.20,934.34 L99.20,930.89 L100.20,927.21 L101.20,923.29 L102.20,919.13 L103.20,914.73 L104.20,910.10 L105.20,905.24 L106.20,900.16 L107.20,894.88 L108.20,889.40 L109.20,883.75 L110.20,877.94 L111.20,872.00 L112.20,865.96 L113.20,859.83 L114.20,853.65 L115.20,847.45 L116.20,841.27 L117.20,835.14 L118.20,829.10 L119.20,823.19 L120.20,817.44 L121.20,811.90 L122.20,806.60 L123.20,801.58 L124.20,796.88 L125.20,792.54 L126.20,788.58 L127.20,785.04 L128.20,781.94 L129.20,779.31 L130.20,777.18 L131.20,775.55 L132.20,774.45 L133.20,773.88 L134.20,773.84 L135.20,774.34 L136.20,775.37 L137.20,776.93 L138.20,779.00 L139.20,781.56 L140.20,784.59 L141.20,788.08 L142.20,791.98 L143.20,796.28 L144.20,800.93 L145.20,805.91 L146.20,811.17 L147.20,816.69 L148.20,822.41 L149.20,828.30 L150.20,834.33 L151.20,840.44 L152.20,846.62 L153.20,852.82 L154.20,859.00 L155.20,865.14 L156.20,871.20 L157.20,877.15 L158.20,882.98 L159.20,888.65 L160.20,894.15 L161.20,899.46 L162.20,904.57 L163.20,909.46 L164.20,914.12 L165.20,918.55 L166.20,922.74 L167.20,926.70 L168.20,930.41 L169.20,933.89 L170.20,937.13 L171.20,940.15 L172.20,942.94 L173.20,945.51 L174.20,947.88 L175.20,950.06 L176.20,952.04 L177.20,953.85 L178.20,955.49 L179.20,956.97 L180.20,958.31 L181.20,959.51 L182.20,960.59 L183.20,961.55 L184.20,962.41 L185.20,963.17 L186.20,963.84 L187.20,964.44 L188.20,964.96 L189.20,965.41 L190.20,965.81 L191.20,966.16 L192.20,966.46 L193.20,966.72 L194.20,966.95 L195.20,967.14 L196.20,967.31 L197.20,967.45 L198.20,967.57 L199.20,967.68 L200.20,967.76 L201.20,967.84 L202.20,967.90 L203.20,967.95 L204.20,967.99 L205.20,968.03 L206.20,968.06 L207.20,968.09 L208.20,968.11 L209.20,968.13 L210.20,968.14 L211.20,968.15 L212.20,968.16 L213.20,968.17 L214.20,968.17 L215.20,968.18 L216.20,968.18 L217.20,968.19 L218.20,968.19 L219.20,968.19 L220.20,968.19 L221.20,968.19 L222.20,968.20 L223.20,968.20 L224.20,968.20 L225.20,968.20 L226.20,968.20 L227.20,968.20 L228.20,968.20 L229.20,968.20 L230.20,968.20 L231.20,968.20 L232.20,968.20 L233.20,968.20 L234.20,968.20 L235.20,968.20 L236.20,968.20 L237.20,968.20 L238.20,968.20 L239.20,968.20 L240.20,968.20 L241.20,968.20 L242.20,968.20 L243.20,968.20 L244.20,968.20 L245.20,968.20 L246.20,968.20 L247.20,968.20 L248.20,968.20 L249.20,968.20 L250.20,968.20 L251.20,968.20 L252.20,968.20 L253.20,968.20 L254.20,968.20 L255.20,968.20 L256.20,968.20 L257.20,968.20 L258.20,968.20 L259.20,968.20 L260.20,968.20 L261.20,968.20 L262.20,968.20 L263.20,968.20 L264.20,968.20 L265.20,968.20 L266.20,968.20 L267.20,968.20 L268.20,968.20 L269.20,968.20 L270.20,968.20 L271.20,968.20 L272.20,968.20 L273.20,968.20 L274.20,968.20 L275.20,968.20 L276.20,968.20 L277.20,968.20 L278.20,968.20 L279.20,968.20 L280.20,968.20 L281.20,968.20 L282.20,968.20 L283.20,968.20 L284.20,968.20 L285.20,968.20 L286.20,968.20 L287.20,968.20 L288.20,968.20 L289.20,968.20 L290.20,968.20 L291.20,968.20 L292.20,968.20 L293.20,968.20 L294.20,968.20 L295.20,968.20 L296.20,968.20 L297.20,968.20 L298.20,968.20 L299.20,968.20 L300.20,968.20 L301.20,968.20 L302.20,968.20 L303.20,968.20 L304.20,968.20 L305.20,968.20 L306.20,968.20 L307.20,968.20 L308.20,968.20 L309.20,968.20 L310.20,968.20 L311.20,968.20 L312.20,968.20 L313.20,968.20 L314.20,968.20 L315.20,968.20"/><path d="M56.20,968.20 L57.20,968.20 L58.20,968.20 L59.20,968.20 L60.20,968.20 L61.20,968.20 L62.20,968.20 L63.20,968.20 L64.20,968.19 L65.20,968.19 L66.20,968.17 L67.20,968.14 L68.20,968.07 L69.20,967.96 L70.20,967.78 L71.20,967.52 L72.20,967.18 L73.20,966.75 L74.20,966.25 L75.20,965.71 L76.20,965.15 L77.20,964.57 L78.20,963.98 L79.20,963.33 L80.20,962.62 L81.20,961.80 L82.20,960.89 L83.20,959.88 L84.20,958.79 L85.20,957.64 L86.20,956.47 L87.20,955.29 L88.20,954.10 L89.20,952.89 L90.20,951.61 L91.20,950.22 L92.20,948.62 L93.20,946.74 L94.20,944.52 L95.20,941.94 L96.20,939.04 L97.20,935.91 L98.20,932.65 L99.20,929.36 L100.20,926.14 L101.20,923.03 L102.20,920.02 L103.20,917.10 L104.20,914.18 L105.20,911.17 L106.20,907.96 L107.20,904.41 L108.20,900.42 L109.20,895.92 L110.20,890.93 L111.20,885.51 L112.20,879.83 L113.20,874.07 L114.20,868.42 L115.20,862.99 L116.20,857.79 L117.20,852.63 L118.20,847.23 L119.20,841.22 L120.20,834.31 L121.20,826.43 L122.20,817.73 L123.20,808.62 L124.20,799.63 L125.20,791.32 L126.20,784.10 L127.20,778.16 L128.20,773.40 L129.20,769.48 L130.20,765.97 L131.20,762.47 L132.20,758.80 L133.20,755.10 L134.20,751.75 L135.20,749.27 L136.20,748.15 L137.20,748.70 L138.20,750.95 L139.20,754.65 L140.20,759.33 L141.20,764.42 L142.20,769.42 L143.20,774.08 L144.20,778.43 L145.20,782.82 L146.20,787.78 L147.20,793.85 L148.20,801.39 L149.20,810.52 L150.20,821.02 L151.20,832.48 L152.20,844.32 L153.20,855.95 L154.20,866.89 L155.20,876.88 L156.20,885.85 L157.20,893.90 L158.20,901.21 L159.20,907.92 L160.20,914.12 L161.20,919.81 L162.20,924.91 L163.20,929.36 L164.20,933.12 L165.20,936.23 L166.20,938.76 L167.20,940.86 L168.20,942.69 L169.20,944.38 L170.20,946.06 L171.20,947.79 L172.20,949.59 L173.20,951.43 L174.20,953.26 L175.20,955.02 L176.20,956.65 L177.20,958.13 L178.20,959.43 L179.20,960.55 L180.20,961.50 L181.20,962.31 L182.20,963.00 L183.20,963.58 L184.20,964.10 L185.20,964.54 L186.20,964.93 L187.20,965.27 L188.20,965.57 L189.20,965.81 L190.20,966.02 L191.20,966.19 L192.20,966.33 L193.20,966.44 L194.20,966.52 L195.20,966.59 L196.20,966.65 L197.20,966.70 L198.20,966.74 L199.20,966.78 L200.20,966.81 L201.20,966.83 L202.20,966.84 L203.20,966.84 L204.20,966.84 L205.20,966.84 L206.20,966.84 L207.20,966.85 L208.20,966.88 L209.20,966.93 L210.20,966.98 L211.20,967.04 L212.20,967.10 L213.20,967.16 L214.20,967.22 L215.20,967.27 L216.20,967.32 L217.20,967.35 L218.20,967.38 L219.20,967.39 L220.20,967.40 L221.20,967.40 L222.20,967.40 L223.20,967.40 L224.20,967.40 L225.20,967.41 L226.20,967.43 L227.20,967.44 L228.20,967.46 L229.20,967.47 L230.20,967.48 L231.20,967.49 L232.20,967.49 L233.20,967.49 L234.20,967.48 L235.20,967.46 L236.20,967.44 L237.20,967.42 L238.20,967.39 L239.20,967.37 L240.20,967.34 L241.20,967.33 L242.20,967.32 L243.20,967.33 L244.20,967.35 L245.20,967.38 L246.20,967.41 L247.20,967.45 L248.20,967.49 L249.20,967.54 L250.20,967.59 L251.20,967.66 L252.20,967.73 L253.20,967.81 L254.20,967.89 L255.20,967.97 L256.20,968.04 L257.20,968.09 L258.20,968.13 L259.20,968.16 L260.20,968.18 L261.20,968.19 L262.20,968.19 L263.20,968.20 L264.20,968.20 L265.20,968.20 L266.20,968.20 L267.20,968.20 L268.20,968.20 L269.20,968.20 L270.20,968.20 L271.20,968.20 L272.20,968.20 L273.20,968.20 L274.20,968.20 L275.20,968.20 L276.20,968.20 L277.20,968.20 L278.20,968.20 L279.20,968.20 L280.20,968.20 L281.20,968.20 L282.20,968.20 L283.20,968.20 L284.20,968.20 L285.20,968.20 L286.20,968.20 L287.20,968.20 L288.20,968.20 L289.20,968.20 L290.20,968.20 L291.20,968.20 L292.20,968.20 L293.20,968.20 L294.20,968.20 L295.20,968.20 L296.20,968.20 L297.20,968.20 L298.20,968.20 L299.20,968.20 L300.20,968.20 L301.20,968.20 L302.20,968.20 L303.20,968.20 L304.20,968.20 L305.20,968.20 L306.20,968.20 L307.20,968.20 L308.20,968.20 L309.20,968.20 L310.20,968.20 L311.20,968.20 L312.20,968.20 L313.20,968.20 L314.20,968.20 L315.20,968.20"/></g><rect x="56.2" y="710.3" width="259.50" height="257.90" fill="none" stroke="#4c4c4c" stroke-width="1.45"/><path d="M51.20,968.20H56.2M51.20,931.36H56.2M51.20,894.51H56.2M51.20,857.67H56.2M51.20,820.83H56.2M51.20,783.99H56.2M51.20,747.14H56.2M51.20,710.30H56.2M56.20,968.2V973.20M108.10,968.2V973.20M160.00,968.2V973.20M211.90,968.2V973.20M263.80,968.2V973.20M315.70,968.2V973.20" stroke="#4c4c4c" stroke-width="1.2" fill="none"/><g font-size="11.9" fill="#262626"><text transform="translate(47.00,973.20) scale(1.16,1)" text-anchor="end">0</text><text transform="translate(47.00,936.36) scale(1.16,1)" text-anchor="end">100</text><text transform="translate(47.00,899.51) scale(1.16,1)" text-anchor="end">200</text><text transform="translate(47.00,862.67) scale(1.16,1)" text-anchor="end">300</text><text transform="translate(47.00,825.83) scale(1.16,1)" text-anchor="end">400</text><text transform="translate(47.00,788.99) scale(1.16,1)" text-anchor="end">500</text><text transform="translate(47.00,752.14) scale(1.16,1)" text-anchor="end">600</text><text transform="translate(47.00,715.30) scale(1.16,1)" text-anchor="end">700</text><text transform="translate(56.20,988.90) scale(1.16,1)" text-anchor="middle">5</text><text transform="translate(108.10,988.90) scale(1.16,1)" text-anchor="middle">10</text><text transform="translate(160.00,988.90) scale(1.16,1)" text-anchor="middle">15</text><text transform="translate(211.90,988.90) scale(1.16,1)" text-anchor="middle">20</text><text transform="translate(263.80,988.90) scale(1.16,1)" text-anchor="middle">25</text><text transform="translate(315.70,988.90) scale(1.16,1)" text-anchor="middle">30</text></g><g fill="#8888fd" stroke="#141434" stroke-width="1.15"><rect x="411.70" y="967.00" width="8.28" height="1.30"/><rect x="419.98" y="961.20" width="8.28" height="7.10"/><rect x="428.26" y="964.10" width="8.28" height="4.20"/><rect x="436.54" y="963.40" width="8.28" height="4.90"/><rect x="444.82" y="962.90" width="8.28" height="5.40"/><rect x="453.10" y="953.60" width="8.28" height="14.70"/><rect x="461.38" y="940.40" width="8.28" height="27.90"/><rect x="469.66" y="915.50" width="8.28" height="52.80"/><rect x="477.94" y="835.50" width="8.28" height="132.80"/><rect x="486.22" y="757.90" width="8.28" height="210.40"/><rect x="494.50" y="723.90" width="8.28" height="244.40"/><rect x="502.78" y="784.70" width="8.28" height="183.60"/><rect x="511.06" y="894.70" width="8.28" height="73.60"/><rect x="519.34" y="911.50" width="8.28" height="56.80"/><rect x="527.62" y="919.10" width="8.28" height="49.20"/><rect x="535.90" y="917.10" width="8.28" height="51.20"/><rect x="544.18" y="949.50" width="8.28" height="18.80"/><rect x="552.46" y="938.50" width="8.28" height="29.80"/><rect x="560.74" y="930.80" width="8.28" height="37.50"/><rect x="569.02" y="951.70" width="8.28" height="16.60"/><rect x="577.30" y="959.40" width="8.28" height="8.90"/><rect x="585.58" y="965.50" width="8.28" height="2.80"/><rect x="593.86" y="965.40" width="8.28" height="2.90"/><rect x="602.14" y="967.30" width="8.28" height="1.00"/><rect x="610.42" y="965.20" width="8.28" height="3.10"/><rect x="618.70" y="965.20" width="8.28" height="3.10"/><rect x="626.98" y="967.30" width="8.28" height="1.00"/><rect x="635.26" y="965.20" width="8.28" height="3.10"/><rect x="643.54" y="967.30" width="8.28" height="1.00"/></g><g fill="none" stroke="#1e1ee0" stroke-width="1.3" stroke-linejoin="round"><path d="M412.00,966.93 L413.00,966.79 L414.00,966.64 L415.00,966.48 L416.00,966.30 L417.00,966.10 L418.00,965.89 L419.00,965.66 L420.00,965.41 L421.00,965.14 L422.00,964.85 L423.00,964.54 L424.00,964.20 L425.00,963.84 L426.00,963.45 L427.00,963.04 L428.00,962.59 L429.00,962.11 L430.00,961.60 L431.00,961.05 L432.00,960.47 L433.00,959.85 L434.00,959.18 L435.00,958.48 L436.00,957.74 L437.00,956.95 L438.00,956.11 L439.00,955.22 L440.00,954.29 L441.00,953.30 L442.00,952.26 L443.00,951.17 L444.00,950.02 L445.00,948.82 L446.00,947.55 L447.00,946.23 L448.00,944.85 L449.00,943.41 L450.00,941.91 L451.00,940.34 L452.00,938.72 L453.00,937.03 L454.00,935.28 L455.00,933.47 L456.00,931.59 L457.00,929.66 L458.00,927.67 L459.00,925.62 L460.00,923.51 L461.00,921.35 L462.00,919.13 L463.00,916.86 L464.00,914.55 L465.00,912.18 L466.00,909.78 L467.00,907.34 L468.00,904.86 L469.00,902.35 L470.00,899.81 L471.00,897.24 L472.00,894.66 L473.00,892.07 L474.00,889.46 L475.00,886.85 L476.00,884.24 L477.00,881.64 L478.00,879.05 L479.00,876.48 L480.00,873.93 L481.00,871.42 L482.00,868.94 L483.00,866.50 L484.00,864.11 L485.00,861.78 L486.00,859.51 L487.00,857.30 L488.00,855.17 L489.00,853.12 L490.00,851.15 L491.00,849.28 L492.00,847.50 L493.00,845.82 L494.00,844.25 L495.00,842.78 L496.00,841.44 L497.00,840.21 L498.00,839.10 L499.00,838.12 L500.00,837.27 L501.00,836.55 L502.00,835.97 L503.00,835.52 L504.00,835.21 L505.00,835.04 L506.00,835.00 L507.00,835.11 L508.00,835.35 L509.00,835.73 L510.00,836.25 L511.00,836.91 L512.00,837.69 L513.00,838.61 L514.00,839.65 L515.00,840.82 L516.00,842.11 L517.00,843.52 L518.00,845.04 L519.00,846.67 L520.00,848.40 L521.00,850.23 L522.00,852.15 L523.00,854.16 L524.00,856.26 L525.00,858.43 L526.00,860.67 L527.00,862.97 L528.00,865.33 L529.00,867.74 L530.00,870.20 L531.00,872.70 L532.00,875.24 L533.00,877.80 L534.00,880.38 L535.00,882.97 L536.00,885.58 L537.00,888.19 L538.00,890.80 L539.00,893.40 L540.00,895.99 L541.00,898.56 L542.00,901.11 L543.00,903.64 L544.00,906.13 L545.00,908.60 L546.00,911.02 L547.00,913.40 L548.00,915.74 L549.00,918.03 L550.00,920.27 L551.00,922.46 L552.00,924.60 L553.00,926.68 L554.00,928.70 L555.00,930.66 L556.00,932.56 L557.00,934.40 L558.00,936.18 L559.00,937.90 L560.00,939.56 L561.00,941.15 L562.00,942.69 L563.00,944.16 L564.00,945.57 L565.00,946.92 L566.00,948.21 L567.00,949.44 L568.00,950.62 L569.00,951.74 L570.00,952.80 L571.00,953.81 L572.00,954.77 L573.00,955.68 L574.00,956.54 L575.00,957.36 L576.00,958.12 L577.00,958.85 L578.00,959.53 L579.00,960.17 L580.00,960.77 L581.00,961.34 L582.00,961.86 L583.00,962.36 L584.00,962.82 L585.00,963.25 L586.00,963.66 L587.00,964.03 L588.00,964.38 L589.00,964.70 L590.00,965.00 L591.00,965.28 L592.00,965.54 L593.00,965.78 L594.00,966.00 L595.00,966.20 L596.00,966.39 L597.00,966.56 L598.00,966.72 L599.00,966.87 L600.00,967.00 L601.00,967.12 L602.00,967.23 L603.00,967.34 L604.00,967.43 L605.00,967.52 L606.00,967.59 L607.00,967.66 L608.00,967.73 L609.00,967.79 L610.00,967.84 L611.00,967.89 L612.00,967.93 L613.00,967.97 L614.00,968.00 L615.00,968.04 L616.00,968.06 L617.00,968.09 L618.00,968.11 L619.00,968.13 L620.00,968.15 L621.00,968.17 L622.00,968.18 L623.00,968.20 L624.00,968.21 L625.00,968.22 L626.00,968.23 L627.00,968.24 L628.00,968.24 L629.00,968.25 L630.00,968.26 L631.00,968.26 L632.00,968.27 L633.00,968.27 L634.00,968.27 L635.00,968.28 L636.00,968.28 L637.00,968.28 L638.00,968.29 L639.00,968.29 L640.00,968.29 L641.00,968.29 L642.00,968.29 L643.00,968.29 L644.00,968.29 L645.00,968.29 L646.00,968.30 L647.00,968.30 L648.00,968.30 L649.00,968.30 L650.00,968.30 L651.00,968.30 L652.00,968.30 L653.00,968.30 L654.00,968.30 L655.00,968.30 L656.00,968.30 L657.00,968.30 L658.00,968.30 L659.00,968.30 L660.00,968.30 L661.00,968.30 L662.00,968.30 L663.00,968.30 L664.00,968.30 L665.00,968.30 L666.00,968.30 L667.00,968.30 L668.00,968.30 L669.00,968.30 L670.00,968.30 L671.00,968.30 L672.00,968.30 L673.00,968.30 L674.00,968.30 L675.00,968.30 L676.00,968.30 L677.00,968.30 L678.00,968.30 L679.00,968.30"/><path d="M412.00,967.30 L413.00,967.05 L414.00,966.75 L415.00,966.42 L416.00,966.04 L417.00,965.62 L418.00,965.19 L419.00,964.74 L420.00,964.30 L421.00,963.88 L422.00,963.52 L423.00,963.22 L424.00,963.00 L425.00,962.86 L426.00,962.80 L427.00,962.81 L428.00,962.87 L429.00,962.98 L430.00,963.11 L431.00,963.24 L432.00,963.36 L433.00,963.46 L434.00,963.53 L435.00,963.57 L436.00,963.59 L437.00,963.57 L438.00,963.54 L439.00,963.49 L440.00,963.42 L441.00,963.33 L442.00,963.22 L443.00,963.08 L444.00,962.90 L445.00,962.68 L446.00,962.39 L447.00,962.02 L448.00,961.56 L449.00,961.00 L450.00,960.34 L451.00,959.57 L452.00,958.69 L453.00,957.72 L454.00,956.66 L455.00,955.51 L456.00,954.28 L457.00,952.97 L458.00,951.58 L459.00,950.11 L460.00,948.54 L461.00,946.87 L462.00,945.08 L463.00,943.16 L464.00,941.08 L465.00,938.82 L466.00,936.33 L467.00,933.59 L468.00,930.54 L469.00,927.13 L470.00,923.30 L471.00,918.98 L472.00,914.12 L473.00,908.67 L474.00,902.58 L475.00,895.87 L476.00,888.56 L477.00,880.71 L478.00,872.41 L479.00,863.75 L480.00,854.85 L481.00,845.79 L482.00,836.66 L483.00,827.53 L484.00,818.48 L485.00,809.56 L486.00,800.86 L487.00,792.47 L488.00,784.48 L489.00,776.98 L490.00,770.05 L491.00,763.75 L492.00,758.17 L493.00,753.36 L494.00,749.39 L495.00,746.35 L496.00,744.33 L497.00,743.40 L498.00,743.65 L499.00,745.11 L500.00,747.80 L501.00,751.69 L502.00,756.72 L503.00,762.80 L504.00,769.86 L505.00,777.78 L506.00,786.47 L507.00,795.83 L508.00,805.73 L509.00,816.02 L510.00,826.50 L511.00,836.95 L512.00,847.13 L513.00,856.80 L514.00,865.76 L515.00,873.85 L516.00,880.99 L517.00,887.15 L518.00,892.38 L519.00,896.75 L520.00,900.39 L521.00,903.40 L522.00,905.91 L523.00,908.01 L524.00,909.78 L525.00,911.30 L526.00,912.60 L527.00,913.73 L528.00,914.70 L529.00,915.53 L530.00,916.24 L531.00,916.84 L532.00,917.36 L533.00,917.82 L534.00,918.28 L535.00,918.77 L536.00,919.36 L537.00,920.13 L538.00,921.11 L539.00,922.37 L540.00,923.92 L541.00,925.76 L542.00,927.84 L543.00,930.10 L544.00,932.43 L545.00,934.72 L546.00,936.85 L547.00,938.71 L548.00,940.22 L549.00,941.32 L550.00,942.00 L551.00,942.28 L552.00,942.19 L553.00,941.81 L554.00,941.21 L555.00,940.46 L556.00,939.62 L557.00,938.75 L558.00,937.92 L559.00,937.17 L560.00,936.55 L561.00,936.10 L562.00,935.87 L563.00,935.90 L564.00,936.22 L565.00,936.84 L566.00,937.76 L567.00,938.95 L568.00,940.38 L569.00,941.98 L570.00,943.68 L571.00,945.43 L572.00,947.17 L573.00,948.84 L574.00,950.42 L575.00,951.89 L576.00,953.24 L577.00,954.48 L578.00,955.62 L579.00,956.67 L580.00,957.64 L581.00,958.56 L582.00,959.41 L583.00,960.21 L584.00,960.97 L585.00,961.67 L586.00,962.33 L587.00,962.92 L588.00,963.45 L589.00,963.91 L590.00,964.30 L591.00,964.62 L592.00,964.88 L593.00,965.09 L594.00,965.26 L595.00,965.40 L596.00,965.52 L597.00,965.64 L598.00,965.75 L599.00,965.87 L600.00,966.00 L601.00,966.12 L602.00,966.23 L603.00,966.34 L604.00,966.42 L605.00,966.47 L606.00,966.49 L607.00,966.47 L608.00,966.41 L609.00,966.32 L610.00,966.21 L611.00,966.08 L612.00,965.95 L613.00,965.81 L614.00,965.69 L615.00,965.59 L616.00,965.50 L617.00,965.44 L618.00,965.41 L619.00,965.40 L620.00,965.43 L621.00,965.47 L622.00,965.55 L623.00,965.64 L624.00,965.76 L625.00,965.89 L626.00,966.02 L627.00,966.15 L628.00,966.27 L629.00,966.36 L630.00,966.43 L631.00,966.46 L632.00,966.45 L633.00,966.41 L634.00,966.35 L635.00,966.27 L636.00,966.19 L637.00,966.12 L638.00,966.07 L639.00,966.05 L640.00,966.06 L641.00,966.12 L642.00,966.20 L643.00,966.32 L644.00,966.47 L645.00,966.63 L646.00,966.80 L647.00,966.97 L648.00,967.14 L649.00,967.30 L650.00,967.46 L651.00,967.59 L652.00,967.72 L653.00,967.83 L654.00,967.93 L655.00,968.01 L656.00,968.09 L657.00,968.14 L658.00,968.19 L659.00,968.22 L660.00,968.25 L661.00,968.27 L662.00,968.28 L663.00,968.29 L664.00,968.29 L665.00,968.30 L666.00,968.30 L667.00,968.30 L668.00,968.30 L669.00,968.30 L670.00,968.30 L671.00,968.30 L672.00,968.30 L673.00,968.30 L674.00,968.30 L675.00,968.30 L676.00,968.30 L677.00,968.30 L678.00,968.30 L679.00,968.30"/></g><rect x="412.0" y="702.8" width="267.60" height="265.50" fill="none" stroke="#4c4c4c" stroke-width="1.45"/><path d="M407.00,968.30H412.0M407.00,930.37H412.0M407.00,892.44H412.0M407.00,854.51H412.0M407.00,816.59H412.0M407.00,778.66H412.0M407.00,740.73H412.0M407.00,702.80H412.0M412.00,968.3V973.30M465.52,968.3V973.30M519.04,968.3V973.30M572.56,968.3V973.30M626.08,968.3V973.30M679.60,968.3V973.30" stroke="#4c4c4c" stroke-width="1.2" fill="none"/><g font-size="11.9" fill="#262626"><text transform="translate(401.20,973.30) scale(1.16,1)" text-anchor="end">0</text><text transform="translate(401.20,935.37) scale(1.16,1)" text-anchor="end">20</text><text transform="translate(401.20,897.44) scale(1.16,1)" text-anchor="end">40</text><text transform="translate(401.20,859.51) scale(1.16,1)" text-anchor="end">60</text><text transform="translate(401.20,821.59) scale(1.16,1)" text-anchor="end">80</text><text transform="translate(401.20,783.66) scale(1.16,1)" text-anchor="end">100</text><text transform="translate(401.20,745.73) scale(1.16,1)" text-anchor="end">120</text><text transform="translate(401.20,707.80) scale(1.16,1)" text-anchor="end">140</text><text transform="translate(412.00,989.00) scale(1.16,1)" text-anchor="middle">5</text><text transform="translate(465.52,989.00) scale(1.16,1)" text-anchor="middle">10</text><text transform="translate(519.04,989.00) scale(1.16,1)" text-anchor="middle">15</text><text transform="translate(572.56,989.00) scale(1.16,1)" text-anchor="middle">20</text><text transform="translate(626.08,989.00) scale(1.16,1)" text-anchor="middle">25</text><text transform="translate(679.60,989.00) scale(1.16,1)" text-anchor="middle">30</text></g><g fill="#8888fd" stroke="#141434" stroke-width="1.15"><rect x="96.40" y="1276.70" width="5.26" height="28.30"/><rect x="101.66" y="1249.80" width="5.26" height="55.20"/><rect x="106.92" y="1275.50" width="5.26" height="29.50"/><rect x="112.18" y="1296.80" width="5.26" height="8.20"/><rect x="117.44" y="1289.80" width="5.26" height="15.20"/><rect x="122.70" y="1291.50" width="5.26" height="13.50"/><rect x="127.96" y="1243.40" width="5.26" height="61.60"/><rect x="133.22" y="1089.20" width="5.26" height="215.80"/><rect x="138.48" y="1081.00" width="5.26" height="224.00"/><rect x="143.74" y="1079.30" width="5.26" height="225.70"/><rect x="149.00" y="1191.40" width="5.26" height="113.60"/><rect x="154.26" y="1211.80" width="5.26" height="93.20"/><rect x="159.52" y="1255.30" width="5.26" height="49.70"/><rect x="164.78" y="1287.00" width="5.26" height="18.00"/><rect x="170.04" y="1287.10" width="5.26" height="17.90"/><rect x="175.30" y="1290.30" width="5.26" height="14.70"/><rect x="180.56" y="1295.00" width="5.26" height="10.00"/><rect x="185.82" y="1291.50" width="5.26" height="13.50"/><rect x="191.08" y="1290.30" width="5.26" height="14.70"/><rect x="196.34" y="1299.60" width="5.26" height="5.40"/><rect x="201.60" y="1288.50" width="5.26" height="16.50"/><rect x="206.86" y="1295.00" width="5.26" height="10.00"/><rect x="212.12" y="1290.30" width="5.26" height="14.70"/><rect x="217.38" y="1290.90" width="5.26" height="14.10"/><rect x="222.64" y="1287.10" width="5.26" height="17.90"/><rect x="227.90" y="1287.10" width="5.26" height="17.90"/><rect x="233.16" y="1291.40" width="5.26" height="13.60"/><rect x="238.42" y="1300.30" width="5.26" height="4.70"/><rect x="243.68" y="1299.00" width="5.26" height="6.00"/><rect x="248.94" y="1298.60" width="5.26" height="6.40"/><rect x="254.20" y="1299.80" width="5.26" height="5.20"/><rect x="259.46" y="1303.90" width="5.26" height="1.10"/><rect x="264.72" y="1304.20" width="5.26" height="0.80"/><rect x="269.98" y="1304.20" width="5.26" height="0.80"/><rect x="275.24" y="1301.30" width="5.26" height="3.70"/><rect x="280.50" y="1303.90" width="5.26" height="1.10"/><rect x="285.76" y="1304.20" width="5.26" height="0.80"/></g><g fill="none" stroke="#1e1ee0" stroke-width="1.3" stroke-linejoin="round"><path d="M57.00,1303.97 L58.00,1303.86 L59.00,1303.75 L60.00,1303.63 L61.00,1303.50 L62.00,1303.36 L63.00,1303.20 L64.00,1303.04 L65.00,1302.86 L66.00,1302.67 L67.00,1302.46 L68.00,1302.23 L69.00,1301.99 L70.00,1301.73 L71.00,1301.46 L72.00,1301.16 L73.00,1300.84 L74.00,1300.51 L75.00,1300.14 L76.00,1299.76 L77.00,1299.35 L78.00,1298.91 L79.00,1298.45 L80.00,1297.96 L81.00,1297.44 L82.00,1296.89 L83.00,1296.31 L84.00,1295.69 L85.00,1295.04 L86.00,1294.36 L87.00,1293.64 L88.00,1292.89 L89.00,1292.10 L90.00,1291.27 L91.00,1290.41 L92.00,1289.50 L93.00,1288.55 L94.00,1287.57 L95.00,1286.54 L96.00,1285.48 L97.00,1284.37 L98.00,1283.22 L99.00,1282.03 L100.00,1280.80 L101.00,1279.53 L102.00,1278.22 L103.00,1276.87 L104.00,1275.49 L105.00,1274.07 L106.00,1272.61 L107.00,1271.11 L108.00,1269.58 L109.00,1268.03 L110.00,1266.44 L111.00,1264.82 L112.00,1263.18 L113.00,1261.51 L114.00,1259.83 L115.00,1258.13 L116.00,1256.41 L117.00,1254.68 L118.00,1252.94 L119.00,1251.19 L120.00,1249.44 L121.00,1247.69 L122.00,1245.95 L123.00,1244.21 L124.00,1242.49 L125.00,1240.78 L126.00,1239.10 L127.00,1237.43 L128.00,1235.80 L129.00,1234.20 L130.00,1232.63 L131.00,1231.10 L132.00,1229.62 L133.00,1228.18 L134.00,1226.79 L135.00,1225.47 L136.00,1224.19 L137.00,1222.99 L138.00,1221.84 L139.00,1220.77 L140.00,1219.77 L141.00,1218.84 L142.00,1217.99 L143.00,1217.23 L144.00,1216.54 L145.00,1215.94 L146.00,1215.42 L147.00,1215.00 L148.00,1214.66 L149.00,1214.41 L150.00,1214.25 L151.00,1214.19 L152.00,1214.21 L153.00,1214.33 L154.00,1214.54 L155.00,1214.84 L156.00,1215.22 L157.00,1215.70 L158.00,1216.26 L159.00,1216.91 L160.00,1217.64 L161.00,1218.46 L162.00,1219.35 L163.00,1220.32 L164.00,1221.36 L165.00,1222.47 L166.00,1223.65 L167.00,1224.90 L168.00,1226.20 L169.00,1227.56 L170.00,1228.97 L171.00,1230.44 L172.00,1231.95 L173.00,1233.50 L174.00,1235.09 L175.00,1236.71 L176.00,1238.36 L177.00,1240.04 L178.00,1241.73 L179.00,1243.45 L180.00,1245.18 L181.00,1246.92 L182.00,1248.67 L183.00,1250.42 L184.00,1252.16 L185.00,1253.91 L186.00,1255.64 L187.00,1257.37 L188.00,1259.08 L189.00,1260.77 L190.00,1262.45 L191.00,1264.10 L192.00,1265.73 L193.00,1267.33 L194.00,1268.90 L195.00,1270.44 L196.00,1271.95 L197.00,1273.42 L198.00,1274.86 L199.00,1276.27 L200.00,1277.63 L201.00,1278.96 L202.00,1280.24 L203.00,1281.49 L204.00,1282.70 L205.00,1283.87 L206.00,1284.99 L207.00,1286.08 L208.00,1287.12 L209.00,1288.12 L210.00,1289.09 L211.00,1290.01 L212.00,1290.89 L213.00,1291.74 L214.00,1292.55 L215.00,1293.31 L216.00,1294.05 L217.00,1294.75 L218.00,1295.41 L219.00,1296.04 L220.00,1296.63 L221.00,1297.20 L222.00,1297.73 L223.00,1298.24 L224.00,1298.71 L225.00,1299.16 L226.00,1299.58 L227.00,1299.98 L228.00,1300.35 L229.00,1300.70 L230.00,1301.02 L231.00,1301.33 L232.00,1301.61 L233.00,1301.88 L234.00,1302.13 L235.00,1302.36 L236.00,1302.58 L237.00,1302.78 L238.00,1302.96 L239.00,1303.13 L240.00,1303.29 L241.00,1303.44 L242.00,1303.57 L243.00,1303.70 L244.00,1303.82 L245.00,1303.92 L246.00,1304.02 L247.00,1304.11 L248.00,1304.19 L249.00,1304.27 L250.00,1304.34 L251.00,1304.40 L252.00,1304.46 L253.00,1304.51 L254.00,1304.56 L255.00,1304.60 L256.00,1304.64 L257.00,1304.68 L258.00,1304.71 L259.00,1304.74 L260.00,1304.77 L261.00,1304.79 L262.00,1304.81 L263.00,1304.83 L264.00,1304.85 L265.00,1304.87 L266.00,1304.88 L267.00,1304.89 L268.00,1304.91 L269.00,1304.92 L270.00,1304.93 L271.00,1304.93 L272.00,1304.94 L273.00,1304.95 L274.00,1304.95 L275.00,1304.96 L276.00,1304.96 L277.00,1304.97 L278.00,1304.97 L279.00,1304.98 L280.00,1304.98 L281.00,1304.98 L282.00,1304.98 L283.00,1304.99 L284.00,1304.99 L285.00,1304.99 L286.00,1304.99 L287.00,1304.99 L288.00,1304.99 L289.00,1304.99 L290.00,1304.99 L291.00,1305.00 L292.00,1305.00 L293.00,1305.00 L294.00,1305.00 L295.00,1305.00 L296.00,1305.00 L297.00,1305.00 L298.00,1305.00 L299.00,1305.00 L300.00,1305.00 L301.00,1305.00 L302.00,1305.00 L303.00,1305.00 L304.00,1305.00 L305.00,1305.00 L306.00,1305.00 L307.00,1305.00 L308.00,1305.00 L309.00,1305.00 L310.00,1305.00 L311.00,1305.00 L312.00,1305.00 L313.00,1305.00"/><path d="M57.00,1305.00 L58.00,1305.00 L59.00,1305.00 L60.00,1305.00 L61.00,1305.00 L62.00,1305.00 L63.00,1305.00 L64.00,1305.00 L65.00,1305.00 L66.00,1305.00 L67.00,1305.00 L68.00,1305.00 L69.00,1305.00 L70.00,1305.00 L71.00,1305.00 L72.00,1305.00 L73.00,1305.00 L74.00,1305.00 L75.00,1305.00 L76.00,1305.00 L77.00,1305.00 L78.00,1305.00 L79.00,1305.00 L80.00,1305.00 L81.00,1305.00 L82.00,1305.00 L83.00,1305.00 L84.00,1305.00 L85.00,1305.00 L86.00,1304.99 L87.00,1304.98 L88.00,1304.93 L89.00,1304.81 L90.00,1304.53 L91.00,1303.98 L92.00,1302.97 L93.00,1301.31 L94.00,1298.86 L95.00,1295.58 L96.00,1291.56 L97.00,1287.00 L98.00,1282.15 L99.00,1277.22 L100.00,1272.43 L101.00,1267.99 L102.00,1264.22 L103.00,1261.49 L104.00,1260.13 L105.00,1260.32 L106.00,1261.98 L107.00,1264.83 L108.00,1268.47 L109.00,1272.48 L110.00,1276.59 L111.00,1280.57 L112.00,1284.24 L113.00,1287.41 L114.00,1289.89 L115.00,1291.56 L116.00,1292.42 L117.00,1292.59 L118.00,1292.30 L119.00,1291.78 L120.00,1291.20 L121.00,1290.58 L122.00,1289.79 L123.00,1288.52 L124.00,1286.38 L125.00,1282.90 L126.00,1277.69 L127.00,1270.42 L128.00,1260.82 L129.00,1248.59 L130.00,1233.48 L131.00,1215.41 L132.00,1194.80 L133.00,1172.76 L134.00,1150.99 L135.00,1131.28 L136.00,1115.00 L137.00,1102.71 L138.00,1094.17 L139.00,1088.66 L140.00,1085.32 L141.00,1083.50 L142.00,1082.87 L143.00,1083.49 L144.00,1085.75 L145.00,1090.25 L146.00,1097.58 L147.00,1108.02 L148.00,1121.23 L149.00,1136.24 L150.00,1151.64 L151.00,1166.03 L152.00,1178.49 L153.00,1188.71 L154.00,1196.97 L155.00,1203.92 L156.00,1210.26 L157.00,1216.56 L158.00,1223.18 L159.00,1230.20 L160.00,1237.49 L161.00,1244.81 L162.00,1251.93 L163.00,1258.68 L164.00,1264.95 L165.00,1270.61 L166.00,1275.50 L167.00,1279.47 L168.00,1282.46 L169.00,1284.53 L170.00,1285.87 L171.00,1286.70 L172.00,1287.26 L173.00,1287.72 L174.00,1288.19 L175.00,1288.71 L176.00,1289.29 L177.00,1289.93 L178.00,1290.62 L179.00,1291.33 L180.00,1292.02 L181.00,1292.64 L182.00,1293.12 L183.00,1293.39 L184.00,1293.44 L185.00,1293.27 L186.00,1292.95 L187.00,1292.54 L188.00,1292.13 L189.00,1291.77 L190.00,1291.51 L191.00,1291.41 L192.00,1291.50 L193.00,1291.85 L194.00,1292.47 L195.00,1293.31 L196.00,1294.25 L197.00,1295.10 L198.00,1295.65 L199.00,1295.75 L200.00,1295.34 L201.00,1294.54 L202.00,1293.53 L203.00,1292.57 L204.00,1291.89 L205.00,1291.61 L206.00,1291.70 L207.00,1292.06 L208.00,1292.50 L209.00,1292.83 L210.00,1292.95 L211.00,1292.81 L212.00,1292.47 L213.00,1292.02 L214.00,1291.56 L215.00,1291.18 L216.00,1290.90 L217.00,1290.70 L218.00,1290.53 L219.00,1290.35 L220.00,1290.09 L221.00,1289.73 L222.00,1289.29 L223.00,1288.80 L224.00,1288.33 L225.00,1287.93 L226.00,1287.63 L227.00,1287.46 L228.00,1287.43 L229.00,1287.53 L230.00,1287.78 L231.00,1288.18 L232.00,1288.75 L233.00,1289.47 L234.00,1290.35 L235.00,1291.37 L236.00,1292.52 L237.00,1293.78 L238.00,1295.09 L239.00,1296.34 L240.00,1297.44 L241.00,1298.30 L242.00,1298.88 L243.00,1299.19 L244.00,1299.29 L245.00,1299.27 L246.00,1299.17 L247.00,1299.06 L248.00,1298.96 L249.00,1298.90 L250.00,1298.87 L251.00,1298.89 L252.00,1298.97 L253.00,1299.11 L254.00,1299.33 L255.00,1299.62 L256.00,1299.99 L257.00,1300.44 L258.00,1300.97 L259.00,1301.54 L260.00,1302.13 L261.00,1302.67 L262.00,1303.13 L263.00,1303.49 L264.00,1303.75 L265.00,1303.93 L266.00,1304.04 L267.00,1304.10 L268.00,1304.13 L269.00,1304.12 L270.00,1304.07 L271.00,1303.97 L272.00,1303.80 L273.00,1303.56 L274.00,1303.25 L275.00,1302.93 L276.00,1302.63 L277.00,1302.43 L278.00,1302.35 L279.00,1302.41 L280.00,1302.60 L281.00,1302.87 L282.00,1303.17 L283.00,1303.44 L284.00,1303.68 L285.00,1303.87 L286.00,1304.01 L287.00,1304.13 L288.00,1304.24 L289.00,1304.35 L290.00,1304.47 L291.00,1304.59 L292.00,1304.70 L293.00,1304.79 L294.00,1304.87 L295.00,1304.93 L296.00,1304.96 L297.00,1304.98 L298.00,1304.99 L299.00,1305.00 L300.00,1305.00 L301.00,1305.00 L302.00,1305.00 L303.00,1305.00 L304.00,1305.00 L305.00,1305.00 L306.00,1305.00 L307.00,1305.00 L308.00,1305.00 L309.00,1305.00 L310.00,1305.00 L311.00,1305.00 L312.00,1305.00 L313.00,1305.00"/></g><rect x="57.0" y="1049.4" width="256.40" height="255.60" fill="none" stroke="#4c4c4c" stroke-width="1.45"/><path d="M52.00,1305.00H57.0M52.00,1276.60H57.0M52.00,1248.20H57.0M52.00,1219.80H57.0M52.00,1191.40H57.0M52.00,1163.00H57.0M52.00,1134.60H57.0M52.00,1106.20H57.0M52.00,1077.80H57.0M52.00,1049.40H57.0M57.00,1305.0V1310.00M89.05,1305.0V1310.00M121.10,1305.0V1310.00M153.15,1305.0V1310.00M185.20,1305.0V1310.00M217.25,1305.0V1310.00M249.30,1305.0V1310.00M281.35,1305.0V1310.00M313.40,1305.0V1310.00" stroke="#4c4c4c" stroke-width="1.2" fill="none"/><g font-size="11.9" fill="#262626"><text transform="translate(46.00,1310.00) scale(1.16,1)" text-anchor="end">0</text><text transform="translate(46.00,1281.60) scale(1.16,1)" text-anchor="end">20</text><text transform="translate(46.00,1253.20) scale(1.16,1)" text-anchor="end">40</text><text transform="translate(46.00,1224.80) scale(1.16,1)" text-anchor="end">60</text><text transform="translate(46.00,1196.40) scale(1.16,1)" text-anchor="end">80</text><text transform="translate(46.00,1168.00) scale(1.16,1)" text-anchor="end">100</text><text transform="translate(46.00,1139.60) scale(1.16,1)" text-anchor="end">120</text><text transform="translate(46.00,1111.20) scale(1.16,1)" text-anchor="end">140</text><text transform="translate(46.00,1082.80) scale(1.16,1)" text-anchor="end">160</text><text transform="translate(46.00,1054.40) scale(1.16,1)" text-anchor="end">180</text><path d="M44.71,1321.80h4.8" stroke="#262626" stroke-width="1.0" fill="none"/><text transform="translate(50.11,1325.70) scale(1.16,1)">0.5</text><text transform="translate(89.05,1325.70) scale(1.16,1)" text-anchor="middle">0</text><text transform="translate(121.10,1325.70) scale(1.16,1)" text-anchor="middle">0.5</text><text transform="translate(153.15,1325.70) scale(1.16,1)" text-anchor="middle">1.0</text><text transform="translate(185.20,1325.70) scale(1.16,1)" text-anchor="middle">1.5</text><text transform="translate(217.25,1325.70) scale(1.16,1)" text-anchor="middle">2.0</text><text transform="translate(249.30,1325.70) scale(1.16,1)" text-anchor="middle">2.5</text><text transform="translate(281.35,1325.70) scale(1.16,1)" text-anchor="middle">3.0</text><text transform="translate(313.40,1325.70) scale(1.16,1)" text-anchor="middle">3.5</text></g><g fill="#8888fd" stroke="#141434" stroke-width="1.15"><rect x="462.20" y="1294.50" width="14.70" height="10.30"/><rect x="476.90" y="1097.90" width="14.70" height="206.90"/><rect x="491.60" y="1160.70" width="14.70" height="144.10"/><rect x="506.30" y="1238.40" width="14.70" height="66.40"/><rect x="521.00" y="1279.10" width="14.70" height="25.70"/><rect x="535.70" y="1260.60" width="14.70" height="44.20"/><rect x="550.40" y="1268.00" width="14.70" height="36.80"/><rect x="565.10" y="1301.10" width="14.70" height="3.70"/><rect x="579.80" y="1301.10" width="14.70" height="3.70"/><rect x="594.50" y="1301.10" width="14.70" height="3.70"/><rect x="609.20" y="1297.40" width="14.70" height="7.40"/></g><g fill="none" stroke="#1e1ee0" stroke-width="1.3" stroke-linejoin="round"><path d="M430.40,1304.80 L430.40,1301.23 L431.40,1300.89 L432.40,1300.53 L433.40,1300.15 L434.40,1299.73 L435.40,1299.28 L436.40,1298.80 L437.40,1298.29 L438.40,1297.73 L439.40,1297.15 L440.40,1296.52 L441.40,1295.85 L442.40,1295.14 L443.40,1294.38 L444.40,1293.58 L445.40,1292.73 L446.40,1291.83 L447.40,1290.89 L448.40,1289.89 L449.40,1288.83 L450.40,1287.73 L451.40,1286.56 L452.40,1285.35 L453.40,1284.07 L454.40,1282.74 L455.40,1281.35 L456.40,1279.90 L457.40,1278.39 L458.40,1276.82 L459.40,1275.20 L460.40,1273.51 L461.40,1271.78 L462.40,1269.98 L463.40,1268.13 L464.40,1266.23 L465.40,1264.28 L466.40,1262.28 L467.40,1260.23 L468.40,1258.14 L469.40,1256.01 L470.40,1253.84 L471.40,1251.64 L472.40,1249.41 L473.40,1247.15 L474.40,1244.87 L475.40,1242.57 L476.40,1240.27 L477.40,1237.95 L478.40,1235.64 L479.40,1233.32 L480.40,1231.02 L481.40,1228.73 L482.40,1226.47 L483.40,1224.23 L484.40,1222.03 L485.40,1219.86 L486.40,1217.74 L487.40,1215.68 L488.40,1213.67 L489.40,1211.72 L490.40,1209.85 L491.40,1208.05 L492.40,1206.34 L493.40,1204.71 L494.40,1203.18 L495.40,1201.74 L496.40,1200.41 L497.40,1199.18 L498.40,1198.06 L499.40,1197.06 L500.40,1196.18 L501.40,1195.42 L502.40,1194.79 L503.40,1194.28 L504.40,1193.90 L505.40,1193.65 L506.40,1193.53 L507.40,1193.54 L508.40,1193.68 L509.40,1193.95 L510.40,1194.36 L511.40,1194.89 L512.40,1195.54 L513.40,1196.32 L514.40,1197.22 L515.40,1198.24 L516.40,1199.38 L517.40,1200.62 L518.40,1201.97 L519.40,1203.42 L520.40,1204.98 L521.40,1206.62 L522.40,1208.35 L523.40,1210.16 L524.40,1212.04 L525.40,1214.00 L526.40,1216.01 L527.40,1218.09 L528.40,1220.22 L529.40,1222.39 L530.40,1224.60 L531.40,1226.84 L532.40,1229.11 L533.40,1231.40 L534.40,1233.71 L535.40,1236.02 L536.40,1238.34 L537.40,1240.65 L538.40,1242.96 L539.40,1245.25 L540.40,1247.53 L541.40,1249.78 L542.40,1252.01 L543.40,1254.20 L544.40,1256.37 L545.40,1258.49 L546.40,1260.57 L547.40,1262.61 L548.40,1264.61 L549.40,1266.55 L550.40,1268.44 L551.40,1270.28 L552.40,1272.07 L553.40,1273.80 L554.40,1275.47 L555.40,1277.08 L556.40,1278.64 L557.40,1280.14 L558.40,1281.58 L559.40,1282.96 L560.40,1284.29 L561.40,1285.55 L562.40,1286.76 L563.40,1287.91 L564.40,1289.01 L565.40,1290.06 L566.40,1291.05 L567.40,1291.99 L568.40,1292.88 L569.40,1293.72 L570.40,1294.51 L571.40,1295.26 L572.40,1295.96 L573.40,1296.62 L574.40,1297.25 L575.40,1297.83 L576.40,1298.37 L577.40,1298.88 L578.40,1299.36 L579.40,1299.80 L580.40,1300.21 L581.40,1300.60 L582.40,1300.95 L583.40,1301.28 L584.40,1301.59 L585.40,1301.87 L586.40,1302.13 L587.40,1302.37 L588.40,1302.59 L589.40,1302.80 L590.40,1302.98 L591.40,1303.15 L592.40,1303.31 L593.40,1303.45 L594.40,1303.59 L595.40,1303.71 L596.40,1303.81 L597.40,1303.91 L598.40,1304.00 L599.40,1304.09 L600.40,1304.16 L601.40,1304.23 L602.40,1304.29 L603.40,1304.34 L604.40,1304.39 L605.40,1304.44 L606.40,1304.48 L607.40,1304.51 L608.40,1304.54 L609.40,1304.57 L610.40,1304.60 L611.40,1304.62 L612.40,1304.64 L613.40,1304.66 L614.40,1304.68 L615.40,1304.69 L616.40,1304.71 L617.40,1304.72 L618.40,1304.73 L619.40,1304.74 L620.40,1304.74 L621.40,1304.75 L622.40,1304.76 L623.40,1304.76 L624.40,1304.77 L625.40,1304.77 L626.40,1304.78 L627.40,1304.78 L628.40,1304.78 L629.40,1304.78 L630.40,1304.79 L631.40,1304.79 L632.40,1304.79 L633.40,1304.79 L634.40,1304.79 L635.40,1304.79 L636.40,1304.79 L637.40,1304.80 L638.40,1304.80 L639.40,1304.80 L640.40,1304.80 L641.40,1304.80 L642.40,1304.80 L643.40,1304.80 L644.40,1304.80 L645.40,1304.80 L646.40,1304.80 L647.40,1304.80 L648.40,1304.80 L649.40,1304.80 L650.40,1304.80 L651.40,1304.80 L652.40,1304.80 L653.40,1304.80 L654.40,1304.80 L655.40,1304.80 L656.40,1304.80 L657.40,1304.80 L658.40,1304.80 L659.40,1304.80 L660.40,1304.80 L661.40,1304.80 L662.40,1304.80 L663.40,1304.80 L664.40,1304.80 L665.40,1304.80 L666.40,1304.80 L667.40,1304.80 L668.40,1304.80 L669.40,1304.80 L670.40,1304.80 L671.40,1304.80 L672.40,1304.80 L673.40,1304.80 L674.40,1304.80"/><path d="M445.80,1304.60 C446.50,1304.27 448.60,1303.45 450.00,1302.60 C451.40,1301.75 452.87,1300.57 454.20,1299.50 C455.53,1298.43 456.72,1297.55 458.00,1296.20 C459.28,1294.85 460.73,1293.07 461.90,1291.40 C463.07,1289.73 463.98,1288.22 465.00,1286.20 C466.02,1284.18 466.85,1283.95 468.00,1279.30 C469.15,1274.65 470.73,1266.92 471.90,1258.30 C473.07,1249.68 474.10,1238.65 475.00,1227.60 C475.90,1216.55 476.53,1203.20 477.30,1192.00 C478.07,1180.80 478.72,1170.52 479.60,1160.40 C480.48,1150.28 481.58,1139.13 482.60,1131.30 C483.62,1123.47 484.87,1117.42 485.70,1113.40 C486.53,1109.38 486.95,1108.50 487.60,1107.20 C488.25,1105.90 489.00,1105.60 489.60,1105.60 C490.20,1105.60 490.70,1106.32 491.20,1107.20 C491.70,1108.08 491.85,1107.38 492.60,1110.90 C493.35,1114.42 494.67,1121.38 495.70,1128.30 C496.73,1135.22 497.78,1144.63 498.80,1152.40 C499.82,1160.17 500.92,1168.00 501.80,1174.90 C502.68,1181.80 503.33,1187.83 504.10,1193.80 C504.87,1199.77 505.50,1204.90 506.40,1210.70 C507.30,1216.50 508.22,1223.30 509.50,1228.60 C510.78,1233.90 512.57,1238.13 514.10,1242.50 C515.63,1246.87 517.38,1251.30 518.70,1254.80 C520.02,1258.30 520.83,1260.90 522.00,1263.50 C523.17,1266.10 524.13,1268.45 525.70,1270.40 C527.27,1272.35 529.85,1274.93 531.40,1275.20 C532.95,1275.47 533.73,1274.07 535.00,1272.00 C536.27,1269.93 537.67,1265.47 539.00,1262.80 C540.33,1260.13 541.58,1257.50 543.00,1256.00 C544.42,1254.50 546.25,1253.63 547.50,1253.80 C548.75,1253.97 549.58,1255.30 550.50,1257.00 C551.42,1258.70 551.75,1260.50 553.00,1264.00 C554.25,1267.50 556.22,1273.47 558.00,1278.00 C559.78,1282.53 561.50,1287.88 563.70,1291.20 C565.90,1294.52 568.37,1296.25 571.20,1297.90 C574.03,1299.55 578.07,1300.55 580.70,1301.10 C583.33,1301.65 584.78,1301.32 587.00,1301.20 C589.22,1301.08 591.25,1300.35 594.00,1300.40 C596.75,1300.45 601.00,1301.37 603.50,1301.50 C606.00,1301.63 607.10,1301.35 609.00,1301.20 C610.90,1301.05 612.65,1300.75 614.90,1300.60 C617.15,1300.45 619.97,1299.97 622.50,1300.30 C625.03,1300.63 627.57,1301.88 630.10,1302.60 C632.63,1303.32 635.22,1304.23 637.70,1304.60 C640.18,1304.97 638.82,1304.77 645.00,1304.80 C651.18,1304.83 669.83,1304.80 674.80,1304.80"/></g><rect x="413.2" y="1046.1" width="261.60" height="258.70" fill="none" stroke="#4c4c4c" stroke-width="1.45"/><path d="M408.20,1304.80H413.2M408.20,1267.84H413.2M408.20,1230.89H413.2M408.20,1193.93H413.2M408.20,1156.97H413.2M408.20,1120.01H413.2M408.20,1083.06H413.2M408.20,1046.10H413.2M413.20,1304.8V1309.80M445.90,1304.8V1309.80M478.60,1304.8V1309.80M511.30,1304.8V1309.80M544.00,1304.8V1309.80M576.70,1304.8V1309.80M609.40,1304.8V1309.80M642.10,1304.8V1309.80M674.80,1304.8V1309.80" stroke="#4c4c4c" stroke-width="1.2" fill="none"/><g font-size="11.9" fill="#262626"><text transform="translate(403.20,1309.80) scale(1.16,1)" text-anchor="end">0</text><text transform="translate(403.20,1272.84) scale(1.16,1)" text-anchor="end">10</text><text transform="translate(403.20,1235.89) scale(1.16,1)" text-anchor="end">20</text><text transform="translate(403.20,1198.93) scale(1.16,1)" text-anchor="end">30</text><text transform="translate(403.20,1161.97) scale(1.16,1)" text-anchor="end">40</text><text transform="translate(403.20,1125.01) scale(1.16,1)" text-anchor="end">50</text><text transform="translate(403.20,1088.06) scale(1.16,1)" text-anchor="end">60</text><text transform="translate(403.20,1051.10) scale(1.16,1)" text-anchor="end">70</text><path d="M400.91,1321.60h4.8" stroke="#262626" stroke-width="1.0" fill="none"/><text transform="translate(406.31,1325.50) scale(1.16,1)">0.5</text><text transform="translate(445.90,1325.50) scale(1.16,1)" text-anchor="middle">0</text><text transform="translate(478.60,1325.50) scale(1.16,1)" text-anchor="middle">0.5</text><text transform="translate(511.30,1325.50) scale(1.16,1)" text-anchor="middle">1.0</text><text transform="translate(544.00,1325.50) scale(1.16,1)" text-anchor="middle">1.5</text><text transform="translate(576.70,1325.50) scale(1.16,1)" text-anchor="middle">2.0</text><text transform="translate(609.40,1325.50) scale(1.16,1)" text-anchor="middle">2.5</text><text transform="translate(642.10,1325.50) scale(1.16,1)" text-anchor="middle">3.0</text><text transform="translate(674.80,1325.50) scale(1.16,1)" text-anchor="middle">3.5</text></g><text transform="translate(0.5,14.9) scale(1.08,1)" font-size="18.0" font-weight="bold" fill="#000" stroke="#000" stroke-width="0.8">a</text><text transform="translate(10.6,147.2) rotate(-90) scale(0.9971,1)" x="0" y="0" text-anchor="middle" font-size="14.5" fill="#262626">Frequency</text><text transform="translate(168.3,36.0) scale(1.0480,1)" font-size="11.5" fill="#262626">Median = 34.4 (34.2, 34.8)</text><text transform="translate(168.3,50.3) scale(0.99,1)" font-size="11.5" fill="#262626"><tspan font-style="italic">n</tspan> = 7,553</text><text transform="translate(111.6,315.8) scale(1.055,1)" font-size="13.8" fill="#262626">Grain Zn concentration</text><text transform="translate(107.6,332.8) scale(1.055,1)" font-size="13.8" fill="#262626">(mg kg<tspan font-size="8.4" dy="-5.0">−1</tspan><tspan dy="5.0">) in bread wheat</tspan></text><text transform="translate(355.6,15.2) scale(1.08,1)" font-size="18.0" font-weight="bold" fill="#000" stroke="#000" stroke-width="0.8">b</text><text transform="translate(363.9,150.4) rotate(-90) scale(0.9971,1)" x="0" y="0" text-anchor="middle" font-size="14.5" fill="#262626">Frequency</text><text transform="translate(498.4,46.3) scale(1.0236,1)" font-size="11.5" fill="#262626">Median = 35.7 (35.1, 36.6)</text><text transform="translate(498.4,59.4) scale(0.99,1)" font-size="11.5" fill="#262626"><tspan font-style="italic">n</tspan> = 997</text><text transform="translate(463.3,313.1) scale(1.055,1)" font-size="13.8" fill="#262626">Grain Zn concentration</text><text transform="translate(456.1,330.9) scale(1.055,1)" font-size="13.8" fill="#262626">(mg kg<tspan font-size="8.4" dy="-5.0">−1</tspan><tspan dy="5.0">) in durum wheat</tspan></text><text transform="translate(0.9,356.2) scale(1.08,1)" font-size="18.0" font-weight="bold" fill="#000" stroke="#000" stroke-width="0.8">c</text><text transform="translate(10.5,489.0) rotate(-90) scale(0.9971,1)" x="0" y="0" text-anchor="middle" font-size="14.5" fill="#262626">Frequency</text><text transform="translate(166.1,370.8) scale(1.0273,1)" font-size="11.5" fill="#262626">Median = 37.9 (37.7, 38.2)</text><text transform="translate(166.1,384.7) scale(0.99,1)" font-size="11.5" fill="#262626"><tspan font-style="italic">n</tspan> = 5,678</text><text transform="translate(115.8,663.0) scale(1.055,1)" font-size="13.8" fill="#262626">Grain Fe concentration</text><text transform="translate(111.0,681.1) scale(1.055,1)" font-size="13.8" fill="#262626">(mg kg<tspan font-size="8.4" dy="-5.0">−1</tspan><tspan dy="5.0">) in bread wheat</tspan></text><text transform="translate(355.4,356.2) scale(1.08,1)" font-size="18.0" font-weight="bold" fill="#000" stroke="#000" stroke-width="0.8">d</text><text transform="translate(366.5,490.6) rotate(-90) scale(0.9971,1)" x="0" y="0" text-anchor="middle" font-size="14.5" fill="#262626">Frequency</text><text transform="translate(509.2,376.0) scale(1.0540,1)" font-size="11.5" fill="#262626">Median = 36.9 (36.0, 37.4)</text><text transform="translate(509.2,390.5) scale(0.99,1)" font-size="11.5" fill="#262626"><tspan font-style="italic">n</tspan> = 863</text><text transform="translate(465.6,662.7) scale(1.055,1)" font-size="13.8" fill="#262626">Grain Fe concentration</text><text transform="translate(457.90000000000003,680.7) scale(1.055,1)" font-size="13.8" fill="#262626">(mg kg<tspan font-size="8.4" dy="-5.0">−1</tspan><tspan dy="5.0">) in durum wheat</tspan></text><text transform="translate(0.5,706.2) scale(1.08,1)" font-size="18.0" font-weight="bold" fill="#000" stroke="#000" stroke-width="0.8">e</text><text transform="translate(11.7,842.2) rotate(-90) scale(0.9971,1)" x="0" y="0" text-anchor="middle" font-size="14.5" fill="#262626">Frequency</text><text transform="translate(149.2,728.1) scale(0.9852,1)" font-size="11.5" fill="#262626">Median = 12.5 (12.4, 12.6)</text><text transform="translate(149.2,742.6) scale(0.99,1)" font-size="11.5" fill="#262626"><tspan font-style="italic">n</tspan> = 8,762</text><text transform="translate(95.6,1010.0) scale(1.055,1)" font-size="13.8" fill="#262626">Grain protein concentration</text><text transform="translate(106.5,1028.1) scale(1.055,1)" font-size="13.8" fill="#262626">(mg kg<tspan font-size="8.4" dy="-5.0">−1</tspan><tspan dy="5.0">) in bread wheat</tspan></text><text transform="translate(355.8,706.4) scale(1.08,1)" font-size="18.0" font-weight="bold" fill="#000" stroke="#000" stroke-width="0.8">f</text><text transform="translate(369.7,838.8) rotate(-90) scale(0.9971,1)" x="0" y="0" text-anchor="middle" font-size="14.5" fill="#262626">Frequency</text><text transform="translate(515.8,722.1) scale(0.9881,1)" font-size="11.5" fill="#262626">Median = 13.3 (13.2, 13.5)</text><text transform="translate(515.8,735.7) scale(0.99,1)" font-size="11.5" fill="#262626"><tspan font-style="italic">n</tspan> = 667</text><text transform="translate(455.7,1010.0) scale(1.055,1)" font-size="13.8" fill="#262626">Grain protein concentration</text><text transform="translate(463.6,1028.0) scale(1.055,1)" font-size="13.8" fill="#262626">(mg kg<tspan font-size="8.4" dy="-5.0">−1</tspan><tspan dy="5.0">) in durum wheat</tspan></text><text transform="translate(0.5,1046.7) scale(1.08,1)" font-size="18.0" font-weight="bold" fill="#000" stroke="#000" stroke-width="0.8">g</text><text transform="translate(11.7,1179.2) rotate(-90) scale(0.9971,1)" x="0" y="0" text-anchor="middle" font-size="14.5" fill="#262626">Frequency</text><text transform="translate(155.3,1069.5) scale(1.0702,1)" font-size="11.5" fill="#262626">Median = 0.86 (0.85, 0.88)</text><text transform="translate(155.3,1083.9) scale(0.99,1)" font-size="11.5" fill="#262626"><tspan font-style="italic">n</tspan> = 972</text><text transform="translate(93.3,1344.7) scale(1.055,1)" font-size="13.8" fill="#262626">Grain phytate concentration</text><text transform="translate(105.2,1363.4) scale(1.055,1)" font-size="13.8" fill="#262626">(mg kg<tspan font-size="8.4" dy="-5.0">−1</tspan><tspan dy="5.0">) in bread wheat</tspan></text><text transform="translate(355.4,1049.2) scale(1.08,1)" font-size="18.0" font-weight="bold" fill="#000" stroke="#000" stroke-width="0.8">h</text><text transform="translate(377.5,1178.6) rotate(-90) scale(0.9971,1)" x="0" y="0" text-anchor="middle" font-size="14.5" fill="#262626">Frequency</text><text transform="translate(490.0,1065.8) scale(1.0569,1)" font-size="11.5" fill="#262626">Median = 0.75 (0.73, 0.83)</text><text transform="translate(490.0,1079.4) scale(0.99,1)" font-size="11.5" fill="#262626"><tspan font-style="italic">n</tspan> = 150</text><text transform="translate(451.90000000000003,1344.6) scale(1.055,1)" font-size="13.8" fill="#262626">Grain phytate concentration</text><text transform="translate(460.8,1361.6) scale(1.055,1)" font-size="13.8" fill="#262626">(mg kg<tspan font-size="8.4" dy="-5.0">−1</tspan><tspan dy="5.0">) in durum wheat</tspan></text></svg></body></html>
